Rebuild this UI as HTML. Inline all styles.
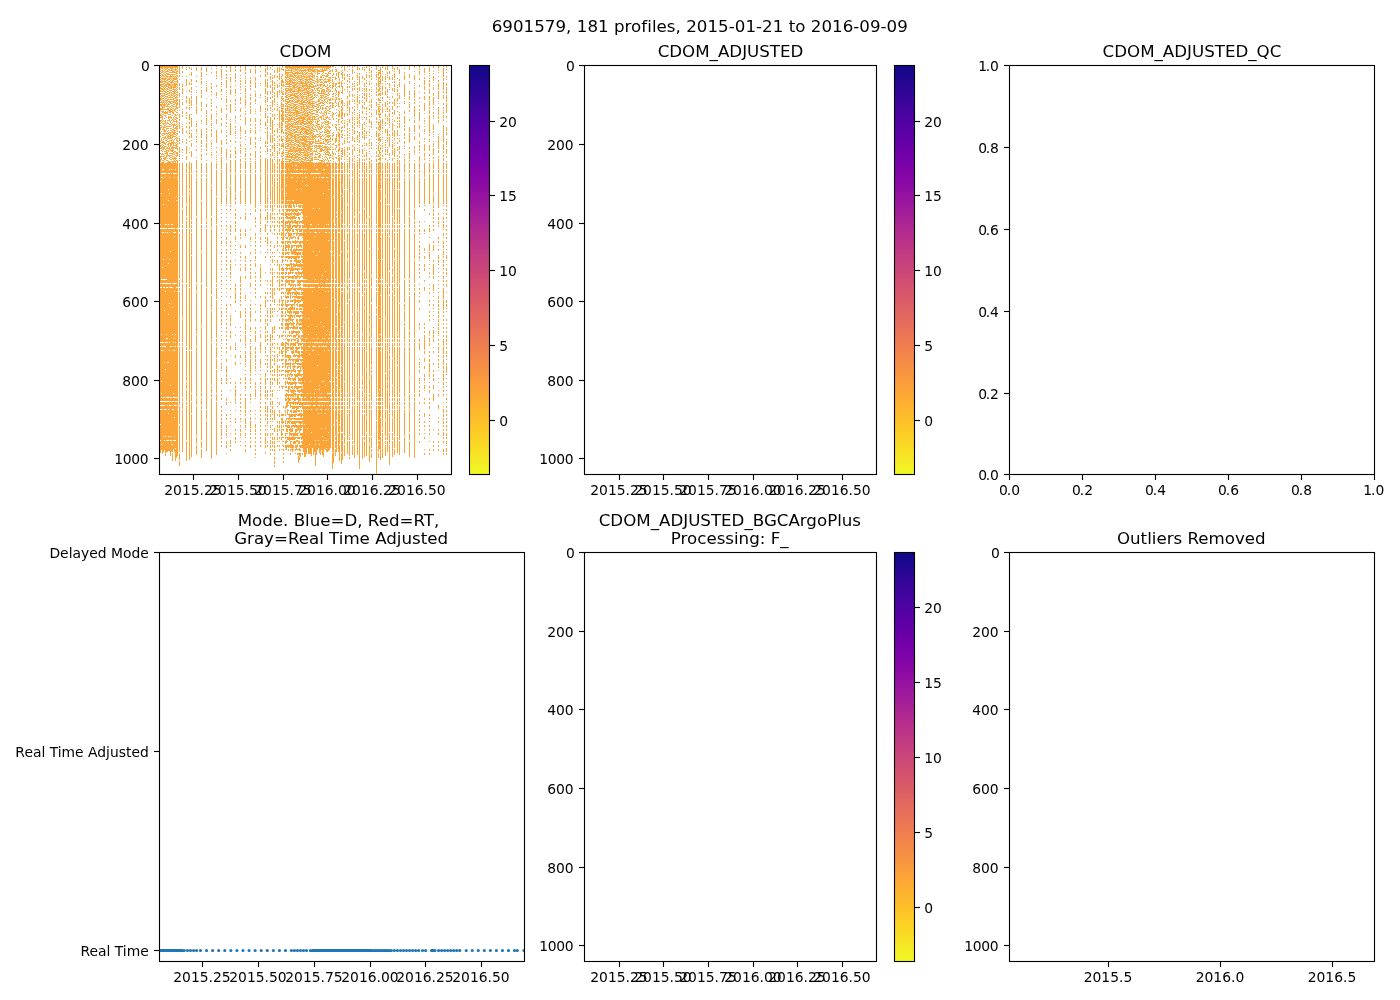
<!DOCTYPE html>
<html><head><meta charset="utf-8"><title>6901579 CDOM</title>
<style>html,body{margin:0;padding:0;background:#fff}svg{display:block}text{font-family:'DejaVu Sans','Liberation Sans',sans-serif;font-size:13.889px;fill:#000}</style>
</head><body>
<svg width="1400" height="1000" viewBox="0 0 1400 1000">
<rect x="0" y="0" width="1400" height="1000" fill="#fff"/>
<defs><linearGradient id="pl" x1="0" y1="1" x2="0" y2="0"><stop offset="0.0000" stop-color="#f0f921"/><stop offset="0.0312" stop-color="#f5eb27"/><stop offset="0.0625" stop-color="#f9dd25"/><stop offset="0.0938" stop-color="#fcd025"/><stop offset="0.1250" stop-color="#fdc328"/><stop offset="0.1562" stop-color="#feb72d"/><stop offset="0.1875" stop-color="#fdab33"/><stop offset="0.2188" stop-color="#fb9f3a"/><stop offset="0.2500" stop-color="#f89441"/><stop offset="0.2812" stop-color="#f48948"/><stop offset="0.3125" stop-color="#f07f4f"/><stop offset="0.3438" stop-color="#eb7556"/><stop offset="0.3750" stop-color="#e56b5d"/><stop offset="0.4062" stop-color="#df6263"/><stop offset="0.4375" stop-color="#d9586a"/><stop offset="0.4688" stop-color="#d24f71"/><stop offset="0.5000" stop-color="#cb4679"/><stop offset="0.5312" stop-color="#c33d80"/><stop offset="0.5625" stop-color="#bb3488"/><stop offset="0.5938" stop-color="#b22b8f"/><stop offset="0.6250" stop-color="#a82296"/><stop offset="0.6562" stop-color="#9e199d"/><stop offset="0.6875" stop-color="#9410a2"/><stop offset="0.7188" stop-color="#8808a6"/><stop offset="0.7500" stop-color="#7d03a8"/><stop offset="0.7812" stop-color="#7100a8"/><stop offset="0.8125" stop-color="#6400a7"/><stop offset="0.8438" stop-color="#5801a4"/><stop offset="0.8750" stop-color="#4b03a1"/><stop offset="0.9062" stop-color="#3e049c"/><stop offset="0.9375" stop-color="#2f0596"/><stop offset="0.9688" stop-color="#20068f"/><stop offset="1.0000" stop-color="#0d0887"/></linearGradient></defs>
<path d="M160.5 66v2m0 1v1m0 1v1m0 1v1m0 1v1m0 1v1m0 1v1m0 1v2m0 1v2m0 1v2m0 1v2m0 1v2m0 1v1m0 1v3m0 1v1m0 1v2m0 2v3m0 3v2m0 1v1m0 2v2m0 1v1m0 1v1m0 1v3m0 2v2m0 2v1m0 4v1m0 1v1m0 1v2m0 1v1m0 4v1m0 2v2m0 1v3m0 1v18m0 1v42m0 1v3m0 1v54m0 1v3m0 1v54m0 1v3m0 1v54m0 1v3m0 1v3m0 1v14m0 1v15m0 1v12M161.5 66v3m0 1v1m0 1v1m0 1v1m0 1v1m0 1v1m0 1v3m0 1v3m0 1v2m0 1v1m0 1v1m0 1v1m0 1v3m0 1v2m0 1v3m0 1v2m0 1v1m0 1v1m0 1v3m0 2v1m0 1v1m0 2v1m0 1v1m0 3v1m0 2v1m0 3v3m0 1v1m0 2v1m0 1v2m0 1v1m0 3v1m0 1v1m0 1v2m0 2v11m0 1v3m0 1v15m0 1v34m0 1v50m0 1v7m0 1v46m0 1v7m0 1v7m0 1v30m0 1v11m0 1v3m0 1v3m0 1v3m0 1v3m0 1v34m0 1v5M162.5 66v3m0 1v3m0 1v2m0 1v3m0 1v2m0 1v1m0 1v1m0 1v2m0 1v1m0 1v1m0 1v2m0 1v1m0 1v1m0 1v3m0 1v4m0 1v2m0 1v1m0 1v4m0 1v1m0 1v1m0 2v1m0 2v1m0 3v1m0 1v1m0 1v1m0 3v2m0 1v1m0 1v2m0 1v1m0 1v1m0 1v2m0 1v1m0 3v1m0 1v7m0 1v3m0 1v3m0 1v50m0 1v3m0 1v34m0 1v11m0 1v3m0 1v58m0 1v3m0 1v3m0 1v50m0 1v3m0 1v3m0 1v44M163.5 66v2m0 1v1m0 1v1m0 1v1m0 1v2m0 1v2m0 1v1m0 1v2m0 1v2m0 1v3m0 1v1m0 1v2m0 1v1m0 1v3m0 1v2m0 1v1m0 1v1m0 1v2m0 1v1m0 5v1m0 2v2m0 2v3m0 1v1m0 1v1m0 1v1m0 1v1m0 1v1m0 1v3m0 1v1m0 1v3m0 4v1m0 1v1m0 1v1m0 1v1m0 1v7m0 1v3m0 1v30m0 1v23m0 1v3m0 1v26m0 1v19m0 1v3m0 1v3m0 1v54m0 1v3m0 1v50m0 1v3m0 1v3m0 1v30m0 1v15M164.5 66v3m0 1v1m0 1v1m0 1v1m0 1v1m0 1v4m0 1v1m0 1v2m0 1v2m0 1v1m0 1v3m0 1v1m0 1v1m0 1v1m0 1v5m0 1v1m0 2v2m0 1v1m0 2v1m0 2v1m0 1v1m0 1v3m0 1v3m0 1v2m0 2v2m0 3v2m0 2v3m0 2v1m0 1v1m0 1v1m0 1v3m0 1v1m0 1v10m0 1v3m0 1v50m0 1v50m0 1v3m0 1v3m0 1v22m0 1v35m0 1v3m0 1v11m0 1v34m0 1v3m0 1v3m0 1v3m0 1v30m0 1v9M165.5 66v2m0 1v1m0 1v2m0 1v2m0 1v3m0 1v2m0 1v2m0 1v1m0 1v1m0 1v2m0 1v1m0 1v1m0 1v1m0 1v1m0 1v1m0 1v2m0 3v1m0 1v3m0 1v2m0 3v4m0 1v1m0 1v1m0 2v2m0 1v1m0 2v3m0 1v1m0 2v2m0 1v1m0 2v1m0 1v1m0 1v1m0 3v3m0 3v10m0 1v50m0 1v3m0 1v3m0 1v46m0 1v3m0 1v7m0 1v50m0 1v3m0 1v22m0 1v31m0 1v7m0 1v26m0 1v19M166.5 66v4m0 1v1m0 1v1m0 1v2m0 1v1m0 1v1m0 1v1m0 1v3m0 1v1m0 1v1m0 1v1m0 1v1m0 1v1m0 1v1m0 1v2m0 1v1m0 2v1m0 2v1m0 2v2m0 3v1m0 6v1m0 1v1m0 1v2m0 3v1m0 1v1m0 2v1m0 1v1m0 1v1m0 3v1m0 1v1m0 1v4m0 1v3m0 2v1m0 2v10m0 1v50m0 1v3m0 1v50m0 1v3m0 1v3m0 1v46m0 1v3m0 1v3m0 1v54m0 1v3m0 1v7m0 1v30m0 1v11M167.5 66v3m0 1v2m0 1v2m0 1v2m0 1v2m0 1v3m0 1v1m0 1v2m0 1v1m0 1v2m0 1v2m0 1v2m0 1v1m0 1v3m0 1v2m0 1v3m0 6v1m0 1v2m0 2v1m0 1v1m0 2v1m0 1v2m0 1v2m0 1v1m0 1v1m0 2v1m0 2v2m0 1v1m0 1v4m0 2v1m0 1v1m0 1v70m0 1v50m0 1v3m0 1v50m0 1v3m0 1v19m0 1v34m0 1v3m0 1v3m0 1v34m0 1v11M168.5 66v2m0 1v1m0 1v1m0 1v2m0 1v1m0 1v2m0 1v1m0 1v5m0 1v1m0 1v1m0 1v1m0 1v1m0 1v1m0 1v1m0 1v1m0 1v2m0 1v1m0 1v3m0 3v1m0 1v3m0 1v1m0 2v1m0 2v1m0 1v1m0 1v1m0 1v2m0 1v4m0 2v1m0 1v4m0 1v1m0 1v2m0 3v1m0 5v12m0 1v15m0 1v10m0 1v23m0 1v3m0 1v34m0 1v19m0 1v30m0 1v47m0 1v34m0 1v3m0 1v7m0 1v3m0 1v22m0 1v3m0 1v10M169.5 66v2m0 1v2m0 1v1m0 1v1m0 1v1m0 1v2m0 1v1m0 1v3m0 1v2m0 1v1m0 1v2m0 1v1m0 1v1m0 1v1m0 1v2m0 1v1m0 2v1m0 2v3m0 1v1m0 2v1m0 1v2m0 3v1m0 1v1m0 5v1m0 1v1m0 1v1m0 1v1m0 1v1m0 1v2m0 3v3m0 3v1m0 1v2m0 1v1m0 2v8m0 1v3m0 1v3m0 1v15m0 1v34m0 1v3m0 1v26m0 1v23m0 1v3m0 1v15m0 1v38m0 1v7m0 1v46m0 1v3m0 1v3m0 1v45M170.5 66v3m0 1v1m0 1v1m0 1v5m0 1v1m0 1v1m0 1v2m0 1v2m0 1v1m0 1v1m0 1v1m0 1v2m0 1v1m0 1v3m0 2v1m0 1v5m0 1v1m0 1v2m0 3v2m0 1v1m0 1v1m0 1v1m0 1v1m0 1v7m0 1v1m0 2v4m0 2v2m0 2v1m0 1v1m0 1v1m0 1v1m0 2v66m0 1v22m0 1v31m0 1v3m0 1v58m0 1v38m0 1v11m0 1v3m0 1v3m0 1v30m0 1v3m0 1v15M171.5 66v5m0 1v1m0 1v1m0 1v2m0 1v1m0 1v3m0 1v4m0 1v1m0 1v1m0 1v2m0 1v1m0 1v1m0 1v1m0 1v1m0 1v1m0 1v1m0 1v1m0 1v1m0 5v2m0 1v1m0 2v1m0 1v1m0 2v1m0 1v1m0 1v1m0 2v1m0 1v2m0 1v6m0 1v2m0 1v2m0 1v1m0 1v1m0 1v1m0 1v1m0 1v1m0 1v6m0 1v3m0 1v50m0 1v3m0 1v58m0 1v58m0 1v50m0 1v42m0 1v3m0 1v7M172.5 66v3m0 1v3m0 1v3m0 1v1m0 1v3m0 1v2m0 1v1m0 1v1m0 1v1m0 1v1m0 1v1m0 1v1m0 1v1m0 1v1m0 1v1m0 1v2m0 1v1m0 1v4m0 1v1m0 3v1m0 2v1m0 1v1m0 4v1m0 1v2m0 1v4m0 1v1m0 2v2m0 2v6m0 1v2m0 1v1m0 1v1m0 2v63m0 1v3m0 1v54m0 1v3m0 1v19m0 1v26m0 1v66m0 1v3m0 1v3m0 1v34m0 1v7m0 1v8M173.5 66v2m0 1v1m0 1v2m0 1v1m0 1v1m0 1v3m0 1v1m0 1v1m0 1v4m0 1v1m0 1v2m0 1v1m0 1v2m0 1v2m0 1v1m0 1v1m0 1v1m0 1v1m0 1v2m0 3v2m0 1v2m0 2v4m0 1v2m0 1v3m0 1v1m0 3v6m0 1v2m0 1v1m0 1v1m0 1v1m0 1v1m0 1v2m0 1v1m0 1v10m0 1v54m0 1v3m0 1v50m0 1v58m0 1v3m0 1v3m0 1v42m0 1v3m0 1v3m0 1v7m0 1v30m0 1v8M174.5 66v2m0 1v1m0 1v2m0 1v1m0 1v4m0 1v1m0 1v5m0 1v5m0 1v2m0 1v1m0 1v3m0 1v1m0 1v1m0 2v2m0 3v1m0 1v1m0 2v1m0 1v1m0 1v3m0 2v1m0 1v5m0 1v1m0 2v1m0 2v1m0 2v1m0 1v1m0 3v2m0 1v1m0 2v2m0 1v2m0 1v10m0 1v3m0 1v50m0 1v3m0 1v3m0 1v46m0 1v7m0 1v46m0 1v11m0 1v46m0 1v7m0 1v11m0 1v18m0 1v3m0 1v11M175.5 66v5m0 1v1m0 1v1m0 1v1m0 1v2m0 1v1m0 1v5m0 1v1m0 1v1m0 1v1m0 1v1m0 1v2m0 1v1m0 1v2m0 2v1m0 1v2m0 1v1m0 2v2m0 1v1m0 1v1m0 1v1m0 3v1m0 1v2m0 1v1m0 1v1m0 1v1m0 1v1m0 1v1m0 4v1m0 1v1m0 1v2m0 2v1m0 1v1m0 1v1m0 1v3m0 1v8m0 1v3m0 1v58m0 1v50m0 1v50m0 1v7m0 1v3m0 1v50m0 1v3m0 1v3m0 1v34m0 1v7m0 1v12M176.5 66v2m0 1v1m0 1v3m0 1v1m0 1v3m0 1v1m0 1v2m0 1v1m0 1v1m0 1v1m0 1v1m0 1v1m0 1v2m0 1v3m0 1v6m0 3v1m0 2v1m0 1v2m0 1v3m0 1v1m0 1v4m0 3v1m0 1v1m0 1v1m0 1v2m0 1v1m0 1v5m0 3v2m0 1v2m0 1v1m0 1v1m0 2v10m0 1v22m0 1v3m0 1v27m0 1v54m0 1v3m0 1v109m0 1v3m0 1v3m0 1v52M177.5 66v3m0 1v2m0 1v1m0 1v2m0 1v1m0 1v3m0 1v2m0 1v1m0 1v1m0 1v2m0 1v2m0 1v1m0 1v2m0 1v3m0 2v2m0 1v1m0 1v1m0 1v1m0 3v1m0 2v1m0 1v1m0 1v2m0 1v1m0 1v2m0 1v2m0 2v2m0 1v2m0 1v2m0 1v1m0 1v2m0 2v4m0 4v17m0 1v50m0 1v58m0 1v3m0 1v54m0 1v50m0 1v3m0 1v7m0 1v46M179.5 66v8m0 1v2m0 2v1m0 3v3m0 1v3m0 3v4m0 2v9m0 2v1m0 3v4m0 1v2m0 1v7m0 2v2m0 3v1m0 1v3m0 1v2m0 3v6m0 1v3m0 1v1m0 1v1m0 2v65m0 1v3m0 1v46m0 1v7m0 1v3m0 1v50m0 1v3m0 1v58m0 1v18m0 1v27m0 1v7m0 1v5M182.5 66v3m0 2v2m0 3v1m0 7v3m0 1v6m0 5v1m0 2v3m0 4v1m0 1v3m0 1v2m0 7v1m0 1v1m0 1v6m0 5v1m0 1v2m0 6v2m0 1v1m0 2v1m0 2v1m0 4v33m0 1v11m0 1v15m0 1v3m0 1v54m0 1v34m0 1v23m0 1v3m0 1v50m0 1v3m0 1v7m0 1v42M186.5 67v1m0 1v1m0 6v1m0 2v7m0 5v1m0 4v3m0 1v3m0 4v2m0 3v2m0 1v1m0 1v2m0 4v1m0 2v2m0 3v2m0 6v2m0 1v2m0 2v8m0 2v4m0 3v10m0 1v30m0 1v11m0 1v3m0 1v7m0 1v54m0 1v62m0 1v3m0 1v30m0 1v7m0 1v11m0 1v3m0 1v34m0 1v20M189.5 67v2m0 5v1m0 7v3m0 5v2m0 6v6m0 1v1m0 1v3m0 4v6m0 2v2m0 2v3m0 1v1m0 1v2m0 2v2m0 3v1m0 6v1m0 3v1m0 9v27m0 1v3m0 1v34m0 1v58m0 1v62m0 1v109M191.5 68v2m0 2v4m0 3v3m0 1v2m0 2v3m0 1v2m0 1v1m0 1v3m0 1v6m0 1v1m0 6v1m0 3v9m0 3v1m0 2v5m0 2v1m0 2v4m0 4v6m0 6v10m0 1v46m0 1v3m0 1v3m0 1v3m0 1v22m0 1v94m0 1v42m0 1v7m0 1v11m0 1v43M196.5 67v4m0 5v1m0 3v2m0 4v1m0 3v1m0 1v1m0 3v9m0 1v8m0 7v1m0 1v4m0 2v3m0 1v1m0 2v2m0 1v1m0 1v2m0 3v1m0 2v2m0 6v1m0 2v9m0 1v3m0 1v3m0 1v38m0 1v66m0 1v7m0 1v42m0 1v11m0 1v50m0 1v7m0 1v30m0 1v7m0 1v10M201.5 67v4m0 1v5m0 1v2m0 1v4m0 2v1m0 2v4m0 1v3m0 4v5m0 1v3m0 4v1m0 4v2m0 1v1m0 5v9m0 2v4m0 1v2m0 2v1m0 1v1m0 2v3m0 1v2m0 3v10m0 1v3m0 1v22m0 1v23m0 1v26m0 1v31m0 1v42m0 1v70m0 1v7m0 1v3m0 1v30m0 1v7m0 1v9M206.5 67v5m0 2v1m0 6v1m0 1v1m0 1v1m0 1v5m0 6v1m0 5v3m0 3v4m0 1v2m0 1v7m0 3v2m0 1v2m0 1v8m0 1v5m0 1v2m0 2v2m0 5v1m0 2v10m0 1v3m0 1v42m0 1v3m0 1v3m0 1v58m0 1v121m0 1v10m0 1v30M211.5 68v1m0 3v1m0 10v2m0 1v3m0 2v2m0 1v1m0 4v2m0 1v2m0 1v2m0 2v2m0 3v6m0 1v1m0 1v3m0 1v1m0 1v3m0 1v4m0 3v1m0 1v3m0 1v1m0 1v1m0 3v1m0 1v2m0 1v1m0 4v23m0 1v30m0 1v11m0 1v66m0 1v14m0 1v31m0 1v42m0 1v7m0 1v3m0 1v61M216.5 66v1m0 1v1m0 2v3m0 1v2m0 1v1m0 6v2m0 5v4m0 1v1m0 8v2m0 3v1m0 1v2m0 1v1m0 2v5m0 6v13m0 4v1m0 3v2m0 2v1m0 1v1m0 1v1m0 1v1m0 1v6m0 1v26m0 1v27m0 1v58m0 1v3m0 1v11m0 1v38m0 1v3m0 1v3m0 1v11m0 1v10m0 1v23m0 1v7m0 1v53M221.5 66v2m0 1v9m0 1v1m0 2v3m0 1v1m0 2v3m0 2v1m0 3v2m0 8v5m0 5v2m0 3v3m0 4v3m0 7v5m0 2v7m0 1v1m0 1v12m0 1v34m0 1v1m0 3v1m0 3v1m0 3v1m0 3v1m0 3v2m0 2v1m0 3v1m0 3v1m0 3v3m0 1v1m0 3v1m0 2v2m0 2v1m0 3v2m0 2v1m0 3v2m0 2v1m0 3v1m0 3v2m0 2v1m0 3v1m0 3v1m0 3v1m0 3v1m0 3v1m0 3v1m0 2v3m0 1v2m0 2v3m0 1v2m0 2v1m0 3v1m0 3v1m0 3v2m0 2v1m0 3v2m0 2v1m0 3v1m0 3v1m0 3v2m0 1v3m0 1v1m0 7v3m0 1v2m0 6v2m0 2v2m0 2v2m0 6v2m0 2v2m0 2v2m0 2v2m0 1v3m0 1v3m0 1v7m0 1v2m0 2v2m0 2v2M226.5 66v2m0 2v2m0 2v2m0 1v2m0 1v8m0 2v1m0 1v1m0 1v1m0 1v1m0 1v5m0 2v2m0 1v2m0 4v4m0 1v1m0 2v2m0 2v1m0 3v1m0 1v1m0 2v2m0 2v2m0 1v2m0 5v9m0 1v1m0 3v26m0 1v3m0 1v10m0 1v1m0 3v1m0 3v1m0 3v1m0 3v1m0 3v2m0 2v1m0 3v1m0 3v3m0 1v3m0 1v1m0 3v2m0 1v2m0 2v2m0 2v2m0 2v2m0 2v2m0 2v1m0 3v1m0 3v1m0 3v1m0 3v1m0 3v1m0 3v1m0 7v2m0 2v2m0 1v2m0 2v2m0 2v1m0 3v2m0 2v2m0 2v2m0 2v2m0 2v2m0 2v2m0 2v2m0 2v2m0 6v3m0 4v7m0 1v3m0 1v3m0 1v2m0 14v3m0 1v3m0 9v2m0 2v2m0 5v3m0 1v3m0 1v3m0 1v1m0 3v3m0 1v3m0 5v1M230.5 66v6m0 2v1m0 2v5m0 2v1m0 1v2m0 1v6m0 5v2m0 2v9m0 6v1m0 1v1m0 1v12m0 5v2m0 4v1m0 3v2m0 2v4m0 2v13m0 1v11m0 1v18m0 1v2m0 2v2m0 2v1m0 7v1m0 3v3m0 1v3m0 1v2m0 6v2m0 2v2m0 2v1m0 2v2m0 6v3m0 1v7m0 1v3m0 1v2m0 2v1m0 3v1m0 3v2m0 6v2m0 6v2m0 9v2m0 1v4m0 1v3m0 5v3m0 1v3m0 8v4m0 5v1m0 22v1m0 3v2m0 6v1m0 11v1m0 7v1m0 3v1m0 3v1m0 2v1m0 3v1m0 7v1m0 6v4m0 1v2m0 2v2M235.5 66v2m0 1v2m0 2v6m0 1v2m0 3v1m0 3v5m0 1v1m0 3v3m0 1v2m0 2v1m0 1v2m0 5v3m0 1v1m0 1v1m0 3v2m0 1v1m0 1v3m0 1v1m0 1v1m0 3v2m0 4v2m0 1v5m0 1v2m0 2v13m0 1v19m0 1v6m0 1v3m0 5v2m0 2v3m0 1v2m0 2v3m0 1v2m0 1v4m0 4v4m0 1v1m0 3v1m0 3v1m0 2v1m0 7v1m0 3v1m0 19v3m0 1v3m0 1v7m0 1v3m0 8v1m0 15v1m0 7v1m0 7v3m0 1v3m0 5v3m0 4v3m0 17v2m0 2v2m0 1v8m0 1v3m0 1v2m0 6v1m0 7v2m0 1v2m0 6v2m0 2v2m0 2v3m0 1v2M240.5 66v2m0 1v3m0 3v1m0 2v1m0 1v2m0 1v2m0 1v2m0 1v1m0 3v1m0 3v4m0 1v2m0 4v4m0 3v2m0 2v1m0 6v6m0 1v1m0 1v1m0 1v2m0 3v1m0 1v3m0 1v1m0 1v4m0 2v1m0 2v3m0 1v6m0 1v3m0 1v15m0 1v14m0 13v2m0 10v3m0 1v3m0 1v2m0 6v3m0 4v2m0 2v2m0 2v1m0 3v1m0 3v3m0 5v7m0 1v3m0 1v3m0 1v3m0 1v3m0 1v2m0 2v2m0 5v7m0 9v1m0 3v1m0 3v1m0 3v3m0 9v1m0 3v3m0 5v1m0 14v2m0 2v2m0 10v2m0 2v2m0 2v2m0 2v2m0 2v2m0 2v1m0 3v2m0 1v1m0 3v2m0 2v3m0 1v3m0 1v1m0 3v1m0 3v1M245.5 66v5m0 1v2m0 2v1m0 1v1m0 1v4m0 2v1m0 1v4m0 1v1m0 1v3m0 1v7m0 1v1m0 3v1m0 1v2m0 2v8m0 5v4m0 2v1m0 2v1m0 4v1m0 3v2m0 1v1m0 1v4m0 1v2m0 1v8m0 1v3m0 1v30m0 1v1m0 3v1m0 3v2m0 1v4m0 9v3m0 1v3m0 9v3m0 8v3m0 1v2m0 2v2m0 1v4m0 5v3m0 16v4m0 1v1m0 7v2m0 1v3m0 1v2m0 2v3m0 1v7m0 1v3m0 1v7m0 1v3m0 1v1m0 3v3m0 1v3m0 1v3m0 1v2m0 1v1m0 3v1m0 3v1m0 2v4m0 1v2m0 2v3m0 1v1m0 3v2m0 2v11m0 1v3m0 1v2m0 2v6m0 1v3m0 1v1m0 3v3m0 1v1m0 3v1m0 3v2m0 2v3M250.5 69v4m0 4v2m0 1v4m0 1v2m0 1v2m0 4v2m0 1v3m0 2v3m0 1v2m0 1v5m0 4v4m0 2v2m0 2v1m0 1v3m0 4v8m0 3v1m0 4v3m0 2v2m0 1v1m0 1v10m0 1v30m0 5v1m0 3v2m0 14v1m0 7v3m0 1v1m0 3v1m0 6v2m0 6v2m0 2v2m0 2v2m0 2v2m0 1v4m0 4v4m0 5v1m0 7v1m0 3v2m0 2v2m0 1v7m0 1v3m0 5v3m0 1v1m0 3v1m0 3v3m0 1v1m0 2v4m0 1v7m0 1v14m0 1v2m0 2v3m0 1v2m0 2v2m0 6v3m0 1v2m0 2v1m0 7v2m0 2v1m0 2v3m0 1v7m0 1v3m0 1v2m0 2v2m0 2v2m0 2v3M255.5 66v2m0 1v5m0 3v4m0 1v6m0 3v1m0 1v4m0 2v3m0 1v1m0 5v1m0 1v1m0 1v1m0 4v4m0 2v2m0 1v2m0 1v4m0 3v3m0 2v3m0 1v2m0 3v7m0 1v1m0 1v8m0 1v3m0 1v34m0 1v3m0 5v3m0 1v2m0 2v2m0 6v3m0 1v2m0 2v2m0 2v2m0 2v2m0 1v2m0 2v3m0 1v1m0 2v4m0 5v2m0 2v2m0 2v2m0 2v2m0 2v2m0 2v2m0 2v2m0 6v1m0 6v2m0 6v2m0 6v2m0 2v3m0 1v7m0 5v3m0 1v3m0 1v3m0 1v3m0 1v2m0 1v3m0 1v1m0 3v1m0 7v3m0 1v2m0 1v8m0 1v1m0 11v1m0 3v1m0 3v1m0 5v4m0 1v3m0 1v2m0 2v2m0 2v2m0 2v2m0 2v2m0 2v2m0 2v1M260.5 66v2m0 3v1m0 3v2m0 6v1m0 1v1m0 8v2m0 1v1m0 7v7m0 2v1m0 4v3m0 1v2m0 2v1m0 2v1m0 6v2m0 1v1m0 6v2m0 2v2m0 2v3m0 1v14m0 1v7m0 1v22m0 1v1m0 3v3m0 1v7m0 1v3m0 1v1m0 2v4m0 1v1m0 3v3m0 1v2m0 2v2m0 5v1m0 11v2m0 1v12m0 1v2m0 2v2m0 10v2m0 6v3m0 1v2m0 1v2m0 2v2m0 2v3m0 5v1m0 3v1m0 2v4m0 4v8m0 1v2m0 6v6m0 1v2m0 2v1m0 3v1m0 3v2m0 2v2m0 2v3m0 1v2m0 1v4m0 1v2m0 2v2m0 2v2m0 2v2m0 2v2m0 2v2m0 1v2m0 2v2m0 2v2m0 2v2m0 2v2m0 2v2m0 2v2M265.5 66v1m0 1v5m0 1v3m0 2v8m0 1v6m0 2v1m0 1v1m0 1v3m0 1v1m0 3v2m0 1v1m0 1v5m0 4v4m0 2v1m0 3v1m0 8v3m0 1v2m0 4v1m0 6v46m0 1v3m0 1v2m0 6v3m0 4v8m0 5v2m0 2v1m0 10v1m0 3v2m0 14v1m0 7v1m0 11v2m0 2v3m0 1v7m0 8v1m0 3v3m0 1v1m0 2v4m0 1v2m0 2v3m0 1v3m0 5v3m0 1v2m0 2v1m0 3v1m0 3v2m0 8v4m0 1v7m0 1v3m0 1v3m0 1v3m0 1v1m0 3v2m0 2v3m0 1v2m0 2v2m0 2v2m0 5v2m0 2v2m0 2v3m0 1v7m0 1v3m0 4v2M267.5 66v4m0 2v3m0 4v2m0 1v6m0 3v4m0 2v5m0 3v2m0 1v3m0 5v2m0 1v4m0 2v1m0 1v3m0 1v9m0 1v3m0 2v1m0 1v4m0 1v1m0 5v14m0 1v19m0 1v10m0 1v3m0 1v1m0 2v8m0 1v2m0 2v1m0 7v2m0 2v7m0 1v1m0 3v1m0 2v1m0 27v2m0 2v1m0 3v1m0 3v2m0 6v2m0 6v1m0 1v4m0 1v2m0 2v2m0 2v3m0 5v2m0 2v2m0 2v2m0 2v2m0 10v2m0 2v2m0 2v2m0 1v2m0 2v2m0 6v2m0 10v3m0 1v3m0 1v2m0 6v7m0 1v3m0 1v2m0 1v3m0 1v1m0 3v1m0 3v3m0 5v2m0 2v2M270.5 67v2m0 4v2m0 1v4m0 1v1m0 3v3m0 3v3m0 3v2m0 3v1m0 2v1m0 1v2m0 1v1m0 2v1m0 3v10m0 1v2m0 3v1m0 1v8m0 2v1m0 3v3m0 2v3m0 1v15m0 1v26m0 1v3m0 1v3m0 1v1m0 3v7m0 1v1m0 3v3m0 1v3m0 9v2m0 2v2m0 2v2m0 1v1m0 3v2m0 2v1m0 3v1m0 3v2m0 2v2m0 6v2m0 2v2m0 2v2m0 2v2m0 2v2m0 2v1m0 3v2m0 2v6m0 1v3m0 1v3m0 12v8m0 1v3m0 1v7m0 1v14m0 1v3m0 1v1m0 3v2m0 1v4m0 1v3m0 1v2m0 2v2m0 2v2m0 1v4m0 1v1m0 2v4m0 1v3m0 1v2m0 1v1m0 3v3m0 1v1m0 3v3m0 1v1m0 2v4m0 1v3m0 1v2m0 2v2M272.5 66v1m0 2v1m0 5v1m0 1v2m0 1v6m0 1v6m0 1v1m0 1v2m0 2v7m0 2v1m0 1v1m0 2v3m0 3v14m0 1v8m0 2v4m0 3v4m0 3v14m0 1v11m0 1v18m0 1v7m0 1v2m0 2v2m0 2v2m0 2v1m0 7v1m0 18v2m0 2v1m0 2v4m0 5v3m0 1v3m0 1v11m0 1v11m0 1v2m0 6v2m0 1v2m0 2v2m0 10v7m0 1v3m0 1v1m0 3v3m0 1v1m0 3v1m0 3v1m0 3v2m0 5v2m0 2v2m0 2v2m0 2v2m0 2v3m0 5v2m0 1v4m0 4v4m0 1v3m0 1v3m0 1v1m0 3v2m0 1v1m0 3v1m0 3v1m0 3v2m0 2v3m0 1v3m0 1v2m0 2v2M274.5 70v3m0 2v3m0 4v2m0 1v1m0 1v3m0 2v2m0 1v2m0 1v5m0 1v1m0 3v2m0 4v2m0 1v3m0 4v1m0 5v2m0 2v2m0 2v3m0 2v9m0 1v1m0 1v1m0 1v1m0 1v1m0 3v10m0 1v3m0 1v26m0 1v2m0 2v1m0 3v2m0 2v3m0 1v2m0 2v3m0 1v2m0 2v2m0 10v3m0 4v1m0 3v1m0 3v1m0 3v1m0 7v1m0 3v1m0 11v3m0 1v3m0 4v4m0 1v1m0 3v2m0 1v1m0 14v4m0 1v2m0 6v1m0 3v1m0 3v2m0 2v2m0 2v2m0 1v4m0 1v2m0 4v4m0 1v2m0 2v3m0 5v1m0 23v10m0 8v4m0 5v3m0 1v3m0 1v3m0 1v3m0 1v2m0 2v3m0 1v3m0 1v2M277.5 67v6m0 3v2m0 2v1m0 3v4m0 3v7m0 4v1m0 1v1m0 1v1m0 1v3m0 3v1m0 3v1m0 5v1m0 3v5m0 3v2m0 3v1m0 1v1m0 1v1m0 1v1m0 3v5m0 1v1m0 1v6m0 1v3m0 1v3m0 1v3m0 1v3m0 1v22m0 1v3m0 5v2m0 2v1m0 3v2m0 2v2m0 6v2m0 2v2m0 2v3m0 1v2m0 2v2m0 9v3m0 1v2m0 6v2m0 2v2m0 2v2m0 6v2m0 14v1m0 6v1m0 3v1m0 19v1m0 7v2m0 2v2m0 5v4m0 1v3m0 3v8m0 1v3m0 1v7m0 5v1m0 7v1m0 3v1m0 3v1m0 7v2m0 5v2m0 2v3m0 1v3m0 1v3m0 1v3m0 1v1m0 3v2M279.5 67v5m0 1v7m0 3v1m0 1v2m0 3v3m0 1v1m0 12v1m0 2v11m0 1v6m0 1v1m0 2v1m0 2v2m0 2v2m0 2v3m0 2v3m0 1v2m0 5v3m0 1v10m0 1v30m0 1v3m0 1v3m0 1v1m0 3v3m0 1v3m0 1v3m0 1v3m0 1v2m0 10v1m0 6v1m0 3v1m0 7v7m0 1v3m0 1v2m0 1v8m0 1v3m0 8v4m0 1v2m0 2v2m0 9v2m0 6v2m0 6v3m0 9v3m0 1v3m0 1v1m0 3v2m0 5v2m0 2v2m0 2v2m0 2v1m0 3v2m0 2v2m0 2v1m0 11v3m0 5v3m0 1v3m0 4v3m0 1v3m0 1v2m0 6v2m0 2v1m0 3v2m0 2v2M281.5 68v2m0 6v3m0 1v6m0 1v2m0 1v3m0 3v3m0 1v1m0 1v7m0 1v2m0 2v6m0 1v12m0 3v5m0 3v3m0 1v1m0 4v1m0 1v2m0 4v8m0 1v34m0 1v3m0 5v2m0 2v2m0 2v2m0 2v1m0 6v4m0 1v1m0 3v2m0 2v2m0 9v2m0 6v2m0 2v2m0 2v2m0 2v2m0 2v2m0 2v2m0 2v2m0 2v2m0 2v3m0 1v1m0 3v2m0 2v2m0 1v2m0 2v2m0 6v2m0 2v2m0 6v2m0 6v3m0 4v4m0 5v2m0 9v2m0 2v2m0 10v1m0 27v2m0 2v2m0 1v2m0 2v3m0 1v7m0 1v3m0 9v1M282.5 66v2m0 1v1m0 4v2m0 3v4m0 2v1m0 6v3m0 1v1m0 1v2m0 4v1m0 1v1m0 1v14m0 1v3m0 1v1m0 1v3m0 7v3m0 1v1m0 1v2m0 4v4m0 1v1m0 1v15m0 1v15m0 1v10m0 1v3m0 5v2m0 2v2m0 2v1m0 3v2m0 2v2m0 2v2m0 2v2m0 2v3m0 1v3m0 5v2m0 1v3m0 1v2m0 1v4m0 4v4m0 1v3m0 1v3m0 1v2m0 2v2m0 2v1m0 3v1m0 7v7m0 1v2m0 1v3m0 1v2m0 1v4m0 1v3m0 1v2m0 6v2m0 5v4m0 1v3m0 1v3m0 1v2m0 2v2m0 2v2m0 1v2m0 2v1m0 3v1m0 11v3m0 25v2m0 2v6m0 5v1m0 3v2m0 2v1m0 3v1m0 3v1M283.5 69v2m0 10v2m0 1v3m0 2v1m0 1v1m0 1v2m0 3v1m0 1v2m0 2v3m0 1v1m0 2v2m0 1v2m0 1v5m0 10v2m0 2v1m0 2v1m0 3v5m0 1v2m0 1v2m0 1v1m0 2v1m0 2v8m0 1v3m0 1v30m0 1v3m0 1v3m0 1v3m0 1v23m0 1v3m0 1v6m0 1v3m0 1v1m0 3v1m0 3v1m0 3v3m0 1v2m0 2v3m0 5v1m0 3v1m0 3v2m0 2v1m0 3v1m0 3v1m0 3v1m0 6v1m0 3v1m0 11v2m0 2v1m0 3v1m0 3v3m0 1v2m0 2v1m0 3v1m0 3v1m0 3v1m0 2v1m0 3v1m0 3v1m0 3v1m0 7v1m0 19v2m0 6v2m0 5v2m0 2v2m0 2v2m0 6v1m0 3v1m0 3v2m0 2v2m0 2v2m0 2v2m0 2v2M285.5 66v2m0 1v6m0 1v2m0 1v2m0 1v1m0 1v1m0 1v1m0 1v3m0 1v3m0 1v2m0 1v3m0 1v1m0 1v2m0 1v5m0 1v3m0 1v2m0 1v3m0 1v3m0 1v2m0 1v2m0 1v1m0 1v2m0 1v1m0 1v1m0 1v1m0 1v3m0 1v1m0 1v1m0 1v1m0 1v1m0 1v2m0 1v1m0 1v6m0 1v3m0 1v34m0 1v1m0 2v4m0 1v1m0 3v7m0 1v2m0 2v3m0 1v1m0 3v10m0 1v3m0 1v2m0 1v2m0 3v1m0 3v1m0 3v3m0 1v2m0 2v2m0 1v4m0 1v1m0 3v2m0 1v3m0 2v6m0 2v2m0 1v3m0 1v2m0 2v2m0 2v3m0 1v3m0 1v2m0 2v2m0 2v1m0 2v16m0 1v9m0 2v3m0 1v3m0 1v1m0 2v4m0 1v2m0 2v1m0 3v3m0 1v3m0 5v3m0 1v3m0 1v2m0 4v4m0 1v2m0 6v3m0 1v2m0 2v3m0 1v3m0 1v1M286.5 66v3m0 1v1m0 1v2m0 1v1m0 1v2m0 1v2m0 1v2m0 1v1m0 1v1m0 1v2m0 1v1m0 1v3m0 1v1m0 1v1m0 1v2m0 1v1m0 1v1m0 1v1m0 1v1m0 1v1m0 1v2m0 1v1m0 1v1m0 1v1m0 1v2m0 1v1m0 1v1m0 1v3m0 1v1m0 1v4m0 1v2m0 1v1m0 1v1m0 1v1m0 1v1m0 1v1m0 1v2m0 1v1m0 1v12m0 1v11m0 1v7m0 1v10m0 1v3m0 1v3m0 1v6m0 2v3m0 1v1m0 2v3m0 2v1m0 3v2m0 2v1m0 3v3m0 1v2m0 1v2m0 2v2m0 6v2m0 1v4m0 1v2m0 2v1m0 2v4m0 5v4m0 4v3m0 5v3m0 1v2m0 4v1m0 4v3m0 1v3m0 1v2m0 9v1m0 3v2m0 3v3m0 1v2m0 2v2m0 2v3m0 1v2m0 5v2m0 6v2m0 2v1m0 3v2m0 2v1m0 2v4m0 1v3m0 1v6m0 10v2m0 5v2m0 1v4m0 1v1m0 3v1m0 2v3m0 2v5M287.5 66v3m0 1v1m0 1v6m0 1v1m0 1v4m0 1v1m0 1v1m0 1v2m0 1v1m0 1v1m0 1v1m0 1v1m0 1v3m0 1v6m0 1v1m0 1v1m0 1v1m0 1v2m0 1v2m0 1v6m0 1v1m0 1v1m0 1v4m0 1v2m0 1v1m0 1v2m0 1v1m0 1v1m0 1v1m0 1v4m0 1v1m0 1v1m0 1v14m0 1v22m0 1v3m0 1v1m0 3v3m0 1v2m0 1v3m0 2v3m0 1v3m0 1v4m0 4v2m0 2v3m0 1v3m0 4v2m0 2v2m0 2v2m0 2v3m0 1v2m0 6v1m0 3v3m0 5v3m0 1v3m0 1v2m0 2v3m0 1v3m0 3v3m0 2v1m0 3v2m0 2v7m0 5v2m0 2v2m0 2v2m0 2v2m0 1v1m0 4v3m0 5v2m0 1v3m0 1v3m0 1v3m0 4v3m0 6v2m0 2v2m0 2v1m0 2v6m0 2v6m0 3v1m0 2v3m0 1v3m0 1v3m0 1v1m0 3v3m0 1v1m0 3v2M288.5 66v2m0 1v2m0 1v2m0 1v1m0 1v1m0 1v1m0 1v1m0 1v2m0 1v1m0 1v3m0 1v1m0 1v1m0 1v1m0 1v2m0 1v2m0 1v1m0 1v1m0 1v1m0 1v1m0 1v2m0 1v1m0 1v1m0 1v3m0 1v3m0 1v3m0 1v1m0 1v3m0 1v1m0 1v3m0 1v4m0 1v1m0 1v5m0 1v2m0 1v1m0 1v1m0 1v6m0 1v34m0 1v3m0 1v2m0 2v3m0 1v2m0 1v3m0 2v6m0 1v5m0 4v2m0 1v7m0 1v3m0 1v3m0 5v2m0 2v1m0 3v3m0 1v3m0 1v2m0 1v2m0 3v7m0 1v2m0 2v2m0 2v2m0 2v2m0 1v2m0 2v2m0 1v4m0 1v7m0 5v1m0 3v3m0 1v3m0 1v2m0 1v1m0 4v3m0 1v2m0 2v2m0 1v1m0 3v3m0 1v1m0 2v3m0 2v3m0 1v7m0 1v9m0 2v1m0 4v1m0 3v1m0 3v2m0 1v2m0 2v3m0 9v3m0 5v3m0 1v2M289.5 66v3m0 1v1m0 1v1m0 1v1m0 1v3m0 1v8m0 1v2m0 1v1m0 1v1m0 1v1m0 1v1m0 1v3m0 1v1m0 1v2m0 1v4m0 1v2m0 1v5m0 1v2m0 1v2m0 1v4m0 1v1m0 1v1m0 1v3m0 1v1m0 1v1m0 1v1m0 1v1m0 1v2m0 1v1m0 1v3m0 1v14m0 1v26m0 1v7m0 1v3m0 1v3m0 1v2m0 2v7m0 1v3m0 1v3m0 1v3m0 1v2m0 2v3m0 4v1m0 3v3m0 5v3m0 1v2m0 2v2m0 2v2m0 2v5m0 3v6m0 10v1m0 3v2m0 1v3m0 1v5m0 3v2m0 2v1m0 3v3m0 1v2m0 2v2m0 6v1m0 7v5m0 3v2m0 1v1m0 3v2m0 2v2m0 1v3m0 2v2m0 2v3m0 5v2m0 2v3m0 1v2m0 10v5m0 1v4m0 1v3m0 1v2m0 1v4m0 1v4m0 4v2M290.5 66v3m0 1v1m0 1v1m0 1v3m0 1v5m0 1v1m0 1v1m0 1v5m0 1v3m0 1v1m0 1v1m0 1v1m0 1v2m0 1v1m0 1v1m0 1v2m0 1v3m0 1v3m0 1v1m0 1v3m0 1v1m0 1v1m0 1v4m0 1v2m0 1v1m0 1v3m0 1v6m0 1v2m0 1v2m0 1v3m0 1v45m0 1v2m0 2v2m0 1v4m0 1v10m0 2v5m0 3v3m0 5v2m0 5v2m0 2v2m0 1v2m0 3v6m0 2v2m0 2v1m0 3v3m0 1v3m0 1v7m0 1v2m0 2v1m0 2v6m0 1v7m0 1v2m0 3v2m0 6v1m0 7v3m0 1v3m0 5v3m0 1v2m0 1v7m0 1v1m0 2v2m0 3v3m0 1v3m0 4v3m0 2v3m0 1v3m0 1v6m0 2v2m0 2v3m0 1v2m0 1v1m0 6v4m0 1v2m0 2v3m0 1v7m0 1v2m0 2v2M291.5 66v7m0 1v3m0 1v1m0 1v2m0 1v2m0 1v1m0 1v3m0 1v1m0 1v2m0 1v2m0 1v2m0 1v1m0 1v1m0 1v2m0 1v1m0 1v2m0 1v1m0 1v3m0 1v1m0 1v1m0 1v2m0 1v1m0 1v1m0 1v6m0 1v4m0 1v2m0 1v1m0 1v3m0 1v2m0 1v3m0 1v1m0 1v11m0 1v3m0 1v26m0 1v3m0 1v2m0 1v4m0 1v2m0 1v2m0 6v1m0 4v3m0 1v2m0 6v9m0 2v3m0 1v2m0 1v8m0 1v1m0 3v2m0 2v3m0 1v2m0 2v2m0 2v1m0 7v2m0 2v6m0 1v3m0 1v2m0 2v2m0 2v3m0 1v1m0 3v3m0 1v2m0 2v3m0 1v2m0 2v3m0 1v2m0 6v1m0 10v3m0 1v3m0 5v3m0 1v2m0 2v3m0 1v2m0 1v1m0 4v2m0 2v1m0 3v3m0 1v3m0 1v2m0 1v3m0 1v3m0 1v3m0 1v3m0 1v3m0 1v1m0 2v4m0 1v1M292.5 66v3m0 1v1m0 1v2m0 1v2m0 1v2m0 1v3m0 1v1m0 1v1m0 1v1m0 1v1m0 1v3m0 1v2m0 1v2m0 1v1m0 1v1m0 1v2m0 1v1m0 1v1m0 1v1m0 1v2m0 1v1m0 1v1m0 1v5m0 1v1m0 1v1m0 1v1m0 1v2m0 1v1m0 1v1m0 1v1m0 1v1m0 1v1m0 1v1m0 1v2m0 1v1m0 1v3m0 1v1m0 1v4m0 1v7m0 1v3m0 1v22m0 1v3m0 5v3m0 1v1m0 2v4m0 1v3m0 1v3m0 1v3m0 5v2m0 2v2m0 2v3m0 3v4m0 1v2m0 6v1m0 2v4m0 1v2m0 2v3m0 1v3m0 1v1m0 2v2m0 3v3m0 1v2m0 2v2m0 2v6m0 5v3m0 1v3m0 1v2m0 2v2m0 2v3m0 5v1m0 3v2m0 1v4m0 1v3m0 5v2m0 2v2m0 1v1m0 3v2m0 2v2m0 2v2m0 2v3m0 1v3m0 1v3m0 1v3m0 1v2m0 2v2m0 2v3m0 5v3m0 1v1m0 2v3m0 1v2m0 1v4m0 1v2m0 2v3m0 5v7M293.5 66v4m0 1v1m0 1v2m0 1v2m0 1v2m0 1v2m0 1v4m0 1v3m0 1v2m0 1v1m0 1v1m0 1v1m0 1v2m0 1v2m0 1v2m0 1v2m0 1v1m0 1v1m0 1v1m0 1v1m0 1v1m0 1v1m0 1v1m0 1v2m0 1v1m0 1v1m0 1v1m0 1v1m0 1v1m0 1v1m0 1v1m0 1v5m0 1v1m0 1v2m0 1v1m0 1v1m0 1v12m0 1v26m0 1v6m0 2v3m0 1v2m0 1v3m0 2v2m0 2v2m0 2v3m0 1v2m0 1v2m0 3v2m0 2v1m0 3v5m0 2v3m0 4v4m0 1v3m0 1v1m0 3v3m0 1v3m0 1v3m0 1v2m0 2v1m0 3v1m0 3v1m0 3v1m0 3v2m0 1v2m0 2v1m0 3v1m0 2v7m0 1v3m0 2v3m0 1v1m0 3v3m0 1v2m0 1v4m0 1v2m0 2v3m0 1v2m0 1v5m0 7v3m0 1v2m0 5v8m0 1v2m0 1v4m0 1v3m0 1v3m0 1v2m0 2v1m0 2v3m0 1v2m0 6v7m0 1v3m0 1v3m0 1v1M294.5 66v2m0 1v1m0 1v1m0 1v3m0 1v1m0 1v2m0 1v7m0 1v2m0 1v4m0 1v1m0 1v1m0 1v1m0 1v3m0 1v1m0 1v1m0 1v4m0 1v4m0 1v1m0 1v1m0 1v2m0 1v2m0 1v2m0 1v3m0 1v1m0 1v1m0 1v3m0 1v3m0 1v1m0 1v1m0 1v1m0 1v4m0 1v7m0 1v3m0 1v30m0 1v3m0 1v2m0 1v7m0 1v3m0 2v2m0 6v1m0 2v1m0 4v2m0 2v2m0 2v6m0 1v3m0 1v2m0 2v3m0 1v2m0 5v2m0 3v2m0 2v1m0 3v3m0 1v3m0 1v2m0 1v7m0 1v3m0 1v2m0 2v3m0 5v1m0 2v3m0 2v2m0 2v2m0 2v2m0 2v3m0 8v3m0 2v1m0 3v1m0 1v3m0 1v3m0 2v2m0 2v2m0 1v3m0 2v3m0 1v2m0 1v2m0 3v3m0 1v2m0 2v3m0 1v3m0 1v3m0 1v2m0 1v3m0 1v3m0 5v3m0 1v3m0 1v3M295.5 66v5m0 1v2m0 1v2m0 1v1m0 1v1m0 1v1m0 1v2m0 1v1m0 1v1m0 1v1m0 1v1m0 1v3m0 1v1m0 1v2m0 1v2m0 1v6m0 1v1m0 1v1m0 1v1m0 1v1m0 1v3m0 1v2m0 1v1m0 1v2m0 1v8m0 1v1m0 1v1m0 1v1m0 1v4m0 1v5m0 1v1m0 1v3m0 1v7m0 1v30m0 5v3m0 1v2m0 2v2m0 1v4m0 1v3m0 1v1m0 3v1m0 3v2m0 1v4m0 1v1m0 3v6m0 1v6m0 2v3m0 1v2m0 2v2m0 2v3m0 5v3m0 1v3m0 1v3m0 1v2m0 1v4m0 8v4m0 12v2m0 2v2m0 2v3m0 1v2m0 1v4m0 1v2m0 1v3m0 2v2m0 2v5m0 2v1m0 3v3m0 1v7m0 1v6m0 2v2m0 1v4m0 1v3m0 1v3m0 1v2m0 2v3m0 1v3m0 1v2m0 1v6m0 2v7m0 1v2m0 2v3m0 1v3m0 1v2m0 2v1M296.5 66v2m0 1v2m0 1v2m0 1v1m0 1v1m0 1v1m0 1v1m0 1v2m0 1v2m0 1v1m0 1v1m0 1v2m0 1v2m0 1v1m0 1v2m0 1v1m0 1v3m0 1v7m0 1v2m0 1v2m0 1v1m0 1v1m0 1v2m0 1v2m0 1v1m0 1v1m0 1v1m0 1v3m0 1v1m0 1v1m0 1v4m0 1v2m0 1v2m0 1v2m0 1v3m0 1v3m0 1v3m0 1v7m0 1v7m0 1v17m0 2v3m0 1v3m0 1v1m0 3v3m0 1v3m0 1v2m0 2v3m0 5v2m0 2v6m0 1v3m0 1v10m0 2v2m0 2v3m0 1v3m0 9v1m0 2v7m0 2v2m0 2v1m0 3v2m0 1v3m0 1v2m0 2v3m0 1v3m0 1v2m0 2v5m0 2v1m0 3v1m0 4v6m0 2v1m0 3v3m0 1v1m0 10v3m0 5v2m0 2v3m0 5v1m0 3v2m0 2v2m0 2v7m0 1v1m0 3v2m0 1v2m0 2v3m0 1v3m0 1v3m0 1v1m0 2v2m0 3v5M297.5 66v4m0 1v4m0 1v3m0 1v1m0 1v2m0 1v2m0 1v1m0 1v2m0 1v1m0 1v4m0 1v3m0 1v1m0 1v1m0 1v1m0 1v5m0 1v1m0 1v2m0 1v4m0 1v5m0 1v1m0 1v2m0 1v1m0 1v2m0 1v1m0 1v1m0 1v3m0 1v2m0 1v2m0 1v2m0 1v2m0 1v7m0 1v3m0 1v3m0 1v26m0 5v3m0 1v3m0 5v6m0 2v6m0 2v2m0 2v2m0 2v2m0 2v2m0 1v6m0 2v3m0 1v3m0 1v3m0 1v1m0 2v3m0 2v3m0 1v2m0 2v2m0 2v2m0 2v3m0 1v2m0 1v4m0 1v2m0 1v3m0 1v2m0 2v5m0 2v3m0 2v2m0 1v1m0 3v6m0 3v3m0 1v2m0 2v2m0 1v4m0 1v2m0 1v3m0 1v1m0 2v4m0 9v6m0 2v6m0 2v3m0 1v3m0 1v1m0 3v2m0 2v2m0 1v2m0 2v3m0 1v2m0 2v3m0 1v2m0 1v2m0 2v3m0 2v1m0 3v2M298.5 66v3m0 1v1m0 1v2m0 1v3m0 1v1m0 1v1m0 1v1m0 1v1m0 1v7m0 1v1m0 1v1m0 1v3m0 1v1m0 1v1m0 1v1m0 1v1m0 1v3m0 1v1m0 1v2m0 1v3m0 1v1m0 1v3m0 1v1m0 1v1m0 1v2m0 1v2m0 1v3m0 1v3m0 1v3m0 1v1m0 1v2m0 1v2m0 1v1m0 1v11m0 1v30m0 1v2m0 2v1m0 2v4m0 1v2m0 2v1m0 3v1m0 2v1m0 4v1m0 2v4m0 1v1m0 3v3m0 1v2m0 1v3m0 1v3m0 1v3m0 1v3m0 1v2m0 1v4m0 1v1m0 3v3m0 1v2m0 2v2m0 2v3m0 1v3m0 1v3m0 8v3m0 1v2m0 6v2m0 6v3m0 1v3m0 1v3m0 1v3m0 1v2m0 2v3m0 1v3m0 1v3m0 1v2m0 1v2m0 2v2m0 1v3m0 1v4m0 1v1m0 3v3m0 1v2m0 2v10m0 2v3m0 1v2m0 2v2m0 2v2m0 1v2m0 2v5m0 3v1m0 3v2m0 2v3m0 5v1m0 3v2m0 1v7M299.5 66v3m0 1v2m0 1v1m0 1v1m0 1v3m0 1v1m0 1v2m0 1v5m0 1v1m0 1v1m0 1v1m0 1v1m0 1v2m0 1v1m0 1v1m0 1v1m0 1v1m0 1v1m0 1v1m0 1v1m0 1v4m0 1v1m0 1v1m0 1v1m0 1v1m0 1v1m0 1v1m0 1v1m0 1v2m0 1v1m0 1v3m0 1v2m0 1v5m0 1v2m0 1v1m0 1v1m0 1v1m0 1v10m0 1v30m0 1v3m0 1v2m0 2v2m0 2v3m0 1v3m0 1v3m0 1v3m0 1v3m0 5v3m0 1v2m0 2v2m0 1v3m0 1v2m0 2v3m0 1v3m0 1v2m0 2v3m0 1v3m0 1v6m0 1v3m0 2v3m0 1v3m0 1v3m0 1v3m0 1v2m0 5v3m0 1v3m0 1v3m0 1v2m0 2v2m0 2v3m0 5v2m0 2v2m0 2v7m0 1v1m0 3v2m0 1v1m0 3v6m0 2v3m0 1v2m0 2v2m0 2v3m0 1v1m0 3v3m0 1v3m0 1v1m0 3v2m0 1v3m0 2v2m0 1v3m0 1v2m0 1v5m0 4v2m0 2v3m0 1v2m0 1v3m0 2v3m0 1v3M300.5 66v2m0 1v2m0 1v2m0 1v1m0 1v1m0 1v5m0 1v1m0 1v1m0 1v3m0 1v3m0 1v1m0 1v1m0 1v1m0 1v2m0 1v1m0 1v1m0 1v1m0 1v2m0 1v4m0 1v5m0 1v2m0 1v1m0 1v4m0 1v1m0 1v3m0 1v1m0 1v1m0 1v1m0 1v6m0 1v1m0 1v1m0 1v1m0 1v12m0 1v30m0 1v3m0 1v2m0 2v2m0 6v2m0 2v3m0 1v3m0 1v3m0 5v6m0 2v2m0 1v3m0 5v2m0 1v4m0 5v2m0 2v2m0 2v3m0 1v2m0 1v3m0 6v2m0 2v2m0 2v3m0 1v2m0 1v1m0 3v2m0 2v2m0 1v3m0 2v3m0 8v1m0 4v3m0 9v1m0 3v2m0 2v2m0 1v6m0 2v2m0 2v3m0 1v2m0 2v2m0 2v2m0 2v2m0 2v3m0 1v3m0 1v2m0 5v4m0 1v2m0 1v10m0 2v3m0 1v1m0 7v3m0 1v2m0 2v4M301.5 66v3m0 1v2m0 1v1m0 1v3m0 1v1m0 1v3m0 1v1m0 1v2m0 1v1m0 1v1m0 1v1m0 1v3m0 1v5m0 1v5m0 1v1m0 1v1m0 1v3m0 1v1m0 1v3m0 1v1m0 1v5m0 1v1m0 1v2m0 1v2m0 1v2m0 1v1m0 1v1m0 1v2m0 1v1m0 1v1m0 1v1m0 1v1m0 1v2m0 1v6m0 1v3m0 1v15m0 1v14m0 1v1m0 3v2m0 1v1m0 8v2m0 6v3m0 1v3m0 5v2m0 2v3m0 1v2m0 4v3m0 1v1m0 4v6m0 2v5m0 3v2m0 6v3m0 1v3m0 1v5m0 3v3m0 1v2m0 1v2m0 2v1m0 3v3m0 1v2m0 2v2m0 1v1m0 4v3m0 1v3m0 1v2m0 1v4m0 1v2m0 1v3m0 2v3m0 1v2m0 1v1m0 3v1m0 3v3m0 1v3m0 1v3m0 1v6m0 1v4m0 5v3m0 1v1m0 3v2m0 1v7m0 1v3m0 1v3m0 1v1m0 3v3m0 1v3m0 1v2m0 2v3M302.5 66v2m0 1v2m0 1v3m0 1v1m0 1v3m0 1v5m0 1v1m0 1v2m0 1v1m0 1v2m0 1v3m0 1v3m0 1v1m0 1v1m0 1v1m0 1v1m0 1v2m0 1v7m0 1v1m0 1v4m0 1v1m0 1v1m0 1v5m0 1v3m0 1v1m0 1v1m0 1v1m0 1v1m0 1v1m0 1v1m0 1v2m0 1v8m0 1v3m0 1v3m0 1v3m0 1v22m0 1v3m0 1v5m0 3v1m0 2v4m0 1v3m0 1v1m0 3v3m0 1v1m0 3v2m0 6v2m0 1v3m0 1v2m0 1v4m0 1v3m0 1v2m0 1v3m0 2v1m0 3v2m0 6v2m0 2v3m0 1v5m0 3v3m0 4v3m0 1v2m0 1v12m0 1v2m0 2v2m0 1v3m0 2v1m0 3v2m0 2v7m0 1v2m0 1v7m0 5v1m0 2v7m0 2v1m0 2v4m0 1v3m0 1v3m0 1v7m0 5v2m0 2v2m0 1v2m0 2v2m0 6v6m0 2v7m0 5v2M303.5 66v3m0 1v2m0 1v1m0 1v2m0 1v1m0 1v1m0 1v2m0 1v3m0 1v2m0 1v1m0 1v1m0 1v2m0 1v1m0 1v2m0 1v6m0 1v2m0 1v1m0 1v8m0 1v1m0 1v3m0 1v1m0 1v1m0 1v2m0 1v3m0 1v5m0 1v3m0 1v2m0 1v1m0 1v1m0 1v1m0 1v63m0 1v3m0 1v50m0 1v3m0 1v3m0 1v54m0 1v58m0 1v3m0 1v46M304.5 66v2m0 1v2m0 1v1m0 1v1m0 1v2m0 1v1m0 1v1m0 1v1m0 1v2m0 1v3m0 1v3m0 1v1m0 1v1m0 1v3m0 1v1m0 1v1m0 1v4m0 1v3m0 1v3m0 1v1m0 1v2m0 1v1m0 1v2m0 1v2m0 1v1m0 1v6m0 1v6m0 1v3m0 1v2m0 1v1m0 1v2m0 1v7m0 1v3m0 1v54m0 1v50m0 1v3m0 1v3m0 1v54m0 1v38m0 1v15m0 1v3m0 1v3m0 1v3m0 1v14m0 1v32M305.5 66v2m0 1v3m0 1v2m0 1v2m0 1v1m0 1v5m0 1v3m0 1v2m0 1v1m0 1v1m0 1v1m0 1v1m0 1v1m0 1v1m0 1v1m0 1v1m0 1v1m0 1v2m0 1v3m0 1v1m0 1v1m0 1v2m0 1v1m0 1v6m0 1v4m0 1v5m0 1v1m0 1v3m0 1v8m0 1v12m0 1v3m0 1v7m0 1v42m0 1v3m0 1v46m0 1v3m0 1v3m0 1v30m0 1v19m0 1v3m0 1v3m0 1v50m0 1v3m0 1v3m0 1v51M306.5 66v3m0 1v1m0 1v2m0 1v1m0 1v5m0 1v4m0 1v3m0 1v1m0 1v1m0 1v5m0 1v2m0 1v2m0 1v2m0 1v1m0 1v1m0 1v2m0 1v1m0 1v1m0 1v3m0 1v2m0 1v6m0 1v1m0 1v5m0 1v3m0 1v1m0 1v2m0 1v1m0 1v1m0 1v2m0 1v1m0 1v7m0 1v7m0 1v38m0 1v11m0 1v50m0 1v3m0 1v3m0 1v50m0 1v11m0 1v50m0 1v3m0 1v3m0 1v44M307.5 66v2m0 1v2m0 1v1m0 1v1m0 1v2m0 1v2m0 1v2m0 1v4m0 1v4m0 1v1m0 1v1m0 1v1m0 1v2m0 1v1m0 1v3m0 1v1m0 1v5m0 1v4m0 1v1m0 1v1m0 1v1m0 1v2m0 1v3m0 1v2m0 1v1m0 1v2m0 1v2m0 1v3m0 1v6m0 1v1m0 1v1m0 1v11m0 1v11m0 1v54m0 1v42m0 1v3m0 1v54m0 1v50m0 1v7m0 1v3m0 1v22m0 1v19M308.5 66v6m0 1v1m0 1v1m0 1v1m0 1v1m0 1v2m0 1v1m0 1v1m0 1v2m0 1v6m0 1v1m0 1v1m0 1v2m0 1v2m0 1v1m0 1v1m0 1v1m0 1v2m0 1v3m0 1v3m0 1v3m0 1v3m0 1v2m0 1v2m0 1v1m0 1v1m0 1v1m0 1v6m0 1v1m0 1v2m0 1v1m0 1v2m0 1v121m0 1v34m0 1v7m0 1v7m0 1v11m0 1v54m0 1v3m0 1v3m0 1v44M309.5 66v4m0 1v1m0 1v1m0 1v6m0 1v1m0 1v5m0 1v1m0 1v2m0 1v1m0 1v1m0 1v6m0 1v2m0 1v1m0 1v2m0 1v1m0 1v4m0 1v3m0 1v1m0 1v3m0 1v1m0 1v1m0 1v1m0 1v1m0 1v1m0 1v8m0 1v1m0 1v1m0 1v1m0 1v3m0 1v1m0 1v66m0 1v54m0 1v3m0 1v54m0 1v3m0 1v7m0 1v46m0 1v3m0 1v38m0 1v9M310.5 66v6m0 1v1m0 1v2m0 1v2m0 1v3m0 1v2m0 1v1m0 1v1m0 1v1m0 1v2m0 1v1m0 1v2m0 1v4m0 1v1m0 1v2m0 1v2m0 1v1m0 1v1m0 1v3m0 1v2m0 1v1m0 1v1m0 1v5m0 1v1m0 1v2m0 1v4m0 1v1m0 1v4m0 1v2m0 1v1m0 1v1m0 1v13m0 1v50m0 1v3m0 1v3m0 1v50m0 1v3m0 1v54m0 1v38m0 1v11m0 1v3m0 1v7m0 1v48M311.5 66v2m0 1v2m0 1v3m0 1v1m0 1v2m0 1v1m0 1v2m0 1v2m0 1v1m0 1v2m0 1v1m0 1v2m0 1v1m0 1v1m0 1v1m0 1v1m0 1v1m0 1v1m0 1v1m0 1v1m0 1v1m0 1v1m0 1v1m0 1v3m0 1v1m0 1v1m0 1v2m0 1v2m0 1v1m0 1v1m0 1v1m0 1v1m0 1v2m0 1v1m0 1v2m0 1v1m0 1v2m0 1v1m0 1v3m0 1v11m0 1v50m0 1v3m0 1v54m0 1v3m0 1v109m0 1v3m0 1v7m0 1v22m0 1v23M312.5 66v6m0 1v5m0 1v2m0 1v1m0 1v1m0 1v2m0 1v3m0 1v1m0 1v2m0 1v2m0 1v7m0 1v1m0 1v1m0 1v2m0 1v5m0 1v1m0 1v1m0 1v3m0 1v1m0 1v1m0 1v6m0 1v3m0 1v2m0 1v1m0 1v1m0 1v4m0 1v4m0 1v11m0 1v54m0 1v54m0 1v3m0 1v3m0 1v18m0 1v31m0 1v3m0 1v3m0 1v97M313.5 66v3m0 1v2m0 3v1m0 1v1m0 2v1m0 1v1m0 2v3m0 2v1m0 1v2m0 3v2m0 2v1m0 1v1m0 1v1m0 1v2m0 1v1m0 2v1m0 2v1m0 2v1m0 1v1m0 2v2m0 2v2m0 1v1m0 1v2m0 1v2m0 1v1m0 1v2m0 8v1m0 11v10m0 1v3m0 1v30m0 1v19m0 1v22m0 1v31m0 1v3m0 1v50m0 1v7m0 1v3m0 1v50m0 1v3m0 1v49M314.5 66v2m0 1v4m0 2v2m0 1v1m0 1v1m0 1v2m0 2v1m0 1v2m0 2v1m0 1v2m0 1v1m0 3v1m0 1v1m0 1v2m0 3v1m0 2v1m0 2v4m0 6v1m0 2v1m0 1v1m0 3v2m0 1v1m0 6v2m0 1v1m0 1v2m0 5v1m0 1v1m0 3v2m0 1v7m0 1v54m0 1v3m0 1v3m0 1v46m0 1v3m0 1v54m0 1v3m0 1v46m0 1v3m0 1v3m0 1v3m0 1v46M315.5 66v2m0 1v1m0 1v1m0 1v1m0 7v1m0 3v2m0 3v1m0 1v1m0 1v1m0 1v1m0 5v1m0 3v1m0 3v1m0 3v1m0 2v1m0 1v1m0 1v2m0 2v1m0 1v1m0 1v1m0 5v3m0 1v5m0 1v1m0 1v1m0 3v1m0 1v2m0 1v2m0 1v1m0 3v10m0 1v54m0 1v3m0 1v46m0 1v3m0 1v58m0 1v3m0 1v42m0 1v7m0 1v7m0 1v34m0 1v3m0 1v21M316.5 66v2m0 1v1m0 6v1m0 2v1m0 1v1m0 1v1m0 2v1m0 1v1m0 6v1m0 1v1m0 4v1m0 1v1m0 1v1m0 1v1m0 1v3m0 1v1m0 1v1m0 2v1m0 3v1m0 1v1m0 3v3m0 2v1m0 1v1m0 4v1m0 1v1m0 1v3m0 1v3m0 2v1m0 2v1m0 1v1m0 2v7m0 1v3m0 1v3m0 1v50m0 1v3m0 1v22m0 1v27m0 1v42m0 1v7m0 1v7m0 1v58m0 1v7m0 1v45M317.5 66v2m0 1v6m0 1v7m0 1v2m0 2v3m0 1v1m0 2v1m0 5v1m0 2v2m0 1v1m0 1v1m0 1v2m0 1v1m0 1v1m0 1v1m0 1v5m0 1v2m0 3v1m0 2v1m0 2v1m0 3v1m0 1v1m0 2v1m0 1v1m0 3v1m0 1v1m0 4v1m0 3v6m0 1v3m0 1v54m0 1v54m0 1v54m0 1v3m0 1v22m0 1v43m0 1v40M318.5 66v2m0 2v2m0 1v1m0 6v1m0 1v1m0 2v1m0 1v2m0 1v1m0 1v2m0 2v1m0 2v3m0 1v2m0 1v2m0 1v2m0 4v1m0 2v2m0 1v1m0 2v2m0 2v2m0 4v1m0 1v1m0 2v3m0 1v1m0 1v2m0 1v1m0 4v1m0 2v2m0 1v1m0 2v11m0 1v50m0 1v3m0 1v54m0 1v3m0 1v54m0 1v3m0 1v7m0 1v42m0 1v3m0 1v3m0 1v7m0 1v26m0 1v7M319.5 66v2m0 2v2m0 1v1m0 5v1m0 1v1m0 2v1m0 2v1m0 2v2m0 1v1m0 4v1m0 1v2m0 1v1m0 1v1m0 3v1m0 2v1m0 4v1m0 2v1m0 3v1m0 1v2m0 1v1m0 1v1m0 1v1m0 1v2m0 4v1m0 1v1m0 1v4m0 2v1m0 1v1m0 1v3m0 2v1m0 1v11m0 1v3m0 1v30m0 1v19m0 1v3m0 1v18m0 1v35m0 1v54m0 1v3m0 1v38m0 1v3m0 1v7m0 1v3m0 1v3m0 1v38m0 1v8M320.5 66v2m0 1v1m0 1v1m0 4v2m0 1v2m0 1v1m0 1v3m0 1v1m0 4v1m0 1v1m0 1v1m0 1v1m0 2v2m0 2v3m0 4v1m0 2v2m0 9v3m0 2v1m0 1v1m0 1v3m0 1v1m0 1v2m0 1v2m0 1v4m0 2v2m0 1v1m0 2v1m0 1v11m0 1v54m0 1v54m0 1v38m0 1v19m0 1v54m0 1v3m0 1v7m0 1v45M321.5 66v2m0 2v2m0 2v1m0 1v2m0 1v1m0 1v2m0 1v2m0 2v1m0 1v4m0 1v4m0 1v1m0 1v1m0 2v1m0 5v2m0 3v4m0 2v1m0 1v3m0 1v1m0 3v1m0 3v1m0 1v1m0 3v2m0 2v1m0 1v4m0 8v17m0 1v50m0 1v50m0 1v7m0 1v54m0 1v3m0 1v46m0 1v3m0 1v3m0 1v3m0 1v3m0 1v3m0 1v14m0 1v21M322.5 66v6m0 1v1m0 1v1m0 3v1m0 2v1m0 1v1m0 2v1m0 1v3m0 1v1m0 1v1m0 1v1m0 2v1m0 1v2m0 1v1m0 1v3m0 3v1m0 1v1m0 7v1m0 2v2m0 3v1m0 2v2m0 3v1m0 3v1m0 1v1m0 1v1m0 1v2m0 5v1m0 1v1m0 1v2m0 1v14m0 1v50m0 1v46m0 1v7m0 1v3m0 1v50m0 1v3m0 1v3m0 1v34m0 1v15m0 1v3m0 1v3m0 1v30m0 1v18M323.5 66v2m0 2v3m0 2v1m0 1v1m0 2v1m0 2v1m0 1v2m0 2v1m0 1v3m0 1v2m0 1v1m0 2v1m0 1v1m0 1v1m0 2v1m0 4v1m0 1v2m0 1v2m0 2v1m0 2v1m0 10v1m0 2v1m0 1v3m0 3v1m0 2v1m0 3v1m0 4v1m0 1v1m0 1v6m0 1v7m0 1v15m0 1v34m0 1v58m0 1v38m0 1v19m0 1v54m0 1v38m0 1v16M324.5 66v5m0 4v1m0 3v1m0 1v2m0 1v2m0 3v3m0 1v2m0 2v1m0 1v2m0 1v1m0 1v1m0 6v2m0 1v1m0 4v1m0 1v1m0 1v1m0 3v1m0 1v1m0 1v2m0 2v1m0 2v1m0 4v1m0 2v2m0 1v2m0 1v1m0 4v1m0 2v1m0 1v7m0 1v3m0 1v54m0 1v109m0 1v3m0 1v3m0 1v3m0 1v30m0 1v15m0 1v3m0 1v3m0 1v43M325.5 66v2m0 1v2m0 2v1m0 2v1m0 1v2m0 1v2m0 3v1m0 5v1m0 1v1m0 1v2m0 1v1m0 1v1m0 5v2m0 1v1m0 1v1m0 2v1m0 1v1m0 1v1m0 1v2m0 1v1m0 1v1m0 1v1m0 1v1m0 1v1m0 1v1m0 2v1m0 1v3m0 2v1m0 1v2m0 1v1m0 1v1m0 1v2m0 1v1m0 2v1m0 3v65m0 1v3m0 1v38m0 1v11m0 1v3m0 1v3m0 1v54m0 1v38m0 1v11m0 1v3m0 1v7m0 1v3m0 1v14m0 1v21M326.5 66v4m0 3v1m0 1v2m0 4v2m0 3v1m0 1v1m0 1v2m0 2v1m0 1v1m0 1v1m0 3v1m0 3v1m0 1v2m0 1v4m0 2v2m0 1v1m0 1v1m0 1v1m0 2v1m0 1v1m0 1v2m0 1v1m0 1v1m0 2v3m0 2v1m0 2v2m0 1v1m0 1v1m0 1v1m0 2v1m0 2v1m0 2v14m0 1v46m0 1v3m0 1v3m0 1v50m0 1v3m0 1v19m0 1v26m0 1v7m0 1v3m0 1v54m0 1v7m0 1v30m0 1v7m0 1v3M327.5 66v3m0 1v1m0 3v3m0 2v1m0 1v1m0 2v2m0 1v3m0 1v1m0 2v2m0 2v1m0 1v2m0 1v1m0 2v1m0 3v1m0 5v2m0 3v2m0 1v1m0 1v1m0 2v3m0 1v1m0 1v2m0 2v2m0 1v2m0 2v1m0 1v5m0 1v1m0 3v2m0 2v3m0 1v11m0 1v3m0 1v46m0 1v50m0 1v3m0 1v3m0 1v42m0 1v11m0 1v50m0 1v7m0 1v3m0 1v46M328.5 66v3m0 3v2m0 1v1m0 1v1m0 1v3m0 5v1m0 1v2m0 1v2m0 1v1m0 1v1m0 1v1m0 7v1m0 2v1m0 2v1m0 4v1m0 2v3m0 1v1m0 1v1m0 2v2m0 1v1m0 1v3m0 1v1m0 1v2m0 1v1m0 2v1m0 1v1m0 1v2m0 1v2m0 4v2m0 1v10m0 1v15m0 1v34m0 1v3m0 1v11m0 1v42m0 1v3m0 1v3m0 1v46m0 1v11m0 1v22m0 1v19m0 1v3m0 1v3m0 1v7m0 1v22m0 1v18M329.5 66v2m0 1v1m0 1v1m0 1v1m0 3v1m0 1v3m0 1v1m0 1v2m0 2v1m0 1v1m0 2v1m0 4v2m0 1v2m0 2v1m0 1v2m0 1v1m0 1v1m0 3v1m0 1v1m0 3v1m0 2v3m0 2v3m0 1v2m0 2v1m0 1v1m0 2v1m0 3v2m0 2v2m0 1v1m0 1v2m0 3v66m0 1v3m0 1v50m0 1v50m0 1v3m0 1v3m0 1v38m0 1v11m0 1v7m0 1v3m0 1v44M330.5 66v2m0 2v2m0 1v1m0 3v2m0 1v1m0 1v1m0 2v1m0 1v1m0 2v2m0 6v3m0 1v2m0 1v2m0 1v1m0 2v1m0 3v1m0 3v1m0 2v1m0 4v1m0 2v1m0 4v1m0 1v3m0 1v1m0 1v1m0 2v2m0 1v1m0 4v2m0 1v1m0 2v1m0 2v65m0 1v22m0 1v31m0 1v3m0 1v58m0 1v34m0 1v11m0 1v3m0 1v7m0 1v42M332.5 66v1m0 2v3m0 3v1m0 1v1m0 1v3m0 1v1m0 1v4m0 2v1m0 2v1m0 1v1m0 1v2m0 2v6m0 4v1m0 1v4m0 6v2m0 7v1m0 1v2m0 1v3m0 3v1m0 2v1m0 1v1m0 1v3m0 1v2m0 1v1m0 4v6m0 1v3m0 1v3m0 1v50m0 1v22m0 1v27m0 1v3m0 1v54m0 1v3m0 1v7m0 1v46m0 1v3m0 1v3m0 1v46m0 1v16M333.5 66v1m0 6v2m0 2v1m0 4v5m0 6v2m0 1v1m0 2v1m0 3v1m0 1v1m0 1v1m0 5v2m0 3v2m0 12v1m0 1v2m0 7v2m0 4v1m0 3v2m0 3v2m0 1v1m0 1v10m0 1v3m0 1v18m0 1v23m0 1v7m0 1v3m0 1v7m0 1v14m0 1v7m0 1v19m0 1v3m0 1v54m0 1v3m0 1v30m0 1v3m0 1v7m0 1v11m0 1v7m0 1v14m0 1v38M335.5 67v1m0 1v1m0 1v1m0 5v3m0 3v4m0 1v3m0 2v1m0 1v1m0 1v1m0 1v4m0 3v1m0 6v1m0 10v1m0 1v2m0 10v5m0 2v1m0 2v2m0 3v2m0 2v1m0 4v11m0 1v50m0 1v3m0 1v50m0 1v3m0 1v15m0 1v26m0 1v15m0 1v3m0 1v50m0 1v3m0 1v3m0 1v3m0 1v26m0 1v3m0 1v7m0 1v7M336.5 69v3m0 1v3m0 2v1m0 4v2m0 2v1m0 2v3m0 1v1m0 2v3m0 3v1m0 1v1m0 3v1m0 2v1m0 2v1m0 2v1m0 2v1m0 2v2m0 1v4m0 3v8m0 3v3m0 3v1m0 5v2m0 4v6m0 1v3m0 1v38m0 1v3m0 1v11m0 1v54m0 1v3m0 1v26m0 1v11m0 1v11m0 1v11m0 1v11m0 1v6m0 1v7m0 1v7m0 1v7m0 1v3m0 1v3m0 1v3m0 1v14m0 1v31M338.5 72v6m0 4v2m0 2v1m0 4v6m0 1v2m0 2v5m0 3v1m0 3v3m0 2v4m0 1v1m0 4v1m0 2v5m0 3v1m0 1v1m0 1v2m0 3v3m0 1v1m0 1v2m0 1v3m0 2v6m0 1v3m0 1v54m0 1v3m0 1v50m0 1v3m0 1v15m0 1v30m0 1v3m0 1v3m0 1v3m0 1v3m0 1v14m0 1v31m0 1v3m0 1v3m0 1v3m0 1v22m0 1v19M339.5 72v1m0 5v3m0 1v2m0 1v3m0 4v2m0 4v2m0 1v1m0 4v1m0 1v1m0 2v6m0 2v1m0 4v1m0 2v1m0 1v2m0 2v9m0 1v3m0 1v4m0 4v1m0 1v16m0 1v3m0 1v50m0 1v3m0 1v22m0 1v31m0 1v22m0 1v19m0 1v7m0 1v30m0 1v19m0 1v7m0 1v3m0 1v3m0 1v3m0 1v3m0 1v10m0 1v19m0 1v16M341.5 67v1m0 3v1m0 1v2m0 6v6m0 5v1m0 5v1m0 1v4m0 2v2m0 1v10m0 2v2m0 4v2m0 1v3m0 1v1m0 1v2m0 10v1m0 1v2m0 1v1m0 1v2m0 1v2m0 2v7m0 1v3m0 1v19m0 1v18m0 1v15m0 1v22m0 1v31m0 1v3m0 1v3m0 1v46m0 1v3m0 1v22m0 1v7m0 1v19m0 1v3m0 1v3m0 1v3m0 1v3m0 1v22m0 1v19m0 1v11M342.5 66v1m0 3v1m0 1v7m0 1v1m0 2v1m0 2v8m0 6v6m0 1v4m0 1v4m0 1v2m0 1v1m0 2v1m0 2v2m0 2v1m0 3v2m0 1v1m0 5v2m0 3v7m0 1v1m0 6v2m0 1v3m0 1v3m0 1v11m0 1v10m0 1v27m0 1v3m0 1v58m0 1v3m0 1v34m0 1v7m0 1v3m0 1v3m0 1v3m0 1v54m0 1v3m0 1v3m0 1v22m0 1v7m0 1v19M344.5 66v5m0 3v2m0 1v3m0 3v1m0 5v1m0 13v1m0 1v1m0 7v4m0 3v1m0 1v2m0 1v3m0 2v1m0 4v1m0 2v1m0 1v4m0 3v1m0 1v7m0 1v1m0 1v1m0 2v11m0 1v15m0 1v34m0 1v3m0 1v11m0 1v42m0 1v3m0 1v34m0 1v15m0 1v3m0 1v38m0 1v15m0 1v3m0 1v3m0 1v30m0 1v7m0 1v11M347.5 66v1m0 4v1m0 2v3m0 3v2m0 2v1m0 1v2m0 1v1m0 1v1m0 4v3m0 2v8m0 1v1m0 2v3m0 3v1m0 1v1m0 1v3m0 2v2m0 1v2m0 1v2m0 1v3m0 1v2m0 4v4m0 1v1m0 2v2m0 2v1m0 1v1m0 1v10m0 1v15m0 1v14m0 1v23m0 1v3m0 1v18m0 1v7m0 1v23m0 1v7m0 1v11m0 1v38m0 1v3m0 1v46m0 1v3m0 1v3m0 1v3m0 1v3m0 1v3m0 1v26m0 1v13M349.5 66v1m0 2v1m0 4v1m0 1v1m0 1v2m0 1v2m0 3v2m0 3v2m0 1v3m0 3v5m0 2v6m0 1v1m0 4v4m0 5v1m0 1v1m0 2v1m0 1v1m0 1v1m0 3v2m0 4v3m0 3v2m0 2v12m0 1v3m0 1v3m0 1v46m0 1v3m0 1v50m0 1v3m0 1v3m0 1v11m0 1v38m0 1v3m0 1v3m0 1v50m0 1v11m0 1v26m0 1v3m0 1v15m0 1v2M352.5 66v2m0 1v5m0 3v3m0 3v2m0 1v1m0 1v3m0 3v3m0 2v1m0 1v1m0 5v2m0 3v2m0 1v1m0 1v4m0 1v2m0 1v3m0 1v2m0 1v1m0 1v1m0 1v5m0 4v2m0 2v6m0 1v1m0 1v4m0 1v6m0 1v7m0 1v15m0 1v34m0 1v54m0 1v3m0 1v26m0 1v27m0 1v3m0 1v38m0 1v11m0 1v3m0 1v3m0 1v34m0 1v3m0 1v10M354.5 66v1m0 5v1m0 8v1m0 1v1m0 1v2m0 1v2m0 5v1m0 1v1m0 2v2m0 1v1m0 2v1m0 2v2m0 1v1m0 1v1m0 2v1m0 1v1m0 1v1m0 1v2m0 2v2m0 1v4m0 4v1m0 1v2m0 2v1m0 2v4m0 5v1m0 1v1m0 2v1m0 1v53m0 1v7m0 1v3m0 1v38m0 1v15m0 1v3m0 1v50m0 1v7m0 1v15m0 1v34m0 1v7m0 1v38m0 1v13M357.5 66v4m0 3v1m0 1v3m0 1v1m0 2v1m0 1v2m0 2v2m0 1v2m0 1v1m0 1v7m0 1v2m0 1v1m0 1v1m0 3v1m0 1v1m0 1v3m0 1v3m0 1v2m0 4v2m0 2v5m0 1v1m0 2v1m0 3v1m0 1v1m0 4v1m0 1v1m0 2v1m0 1v66m0 1v3m0 1v15m0 1v38m0 1v22m0 1v11m0 1v7m0 1v3m0 1v3m0 1v3m0 1v3m0 1v30m0 1v23m0 1v3m0 1v49M359.5 68v2m0 3v2m0 1v9m0 2v4m0 4v1m0 1v1m0 2v4m0 6v1m0 1v1m0 1v5m0 1v4m0 1v1m0 1v1m0 4v5m0 1v1m0 1v3m0 2v1m0 1v1m0 1v4m0 1v2m0 2v11m0 1v3m0 1v3m0 1v34m0 1v11m0 1v3m0 1v58m0 1v3m0 1v50m0 1v3m0 1v42m0 1v11m0 1v67M362.5 67v3m0 6v3m0 2v1m0 6v1m0 1v1m0 2v1m0 2v2m0 2v1m0 1v1m0 2v4m0 2v3m0 3v1m0 1v1m0 4v6m0 1v4m0 1v2m0 7v2m0 2v5m0 2v1m0 2v2m0 1v11m0 1v3m0 1v46m0 1v3m0 1v54m0 1v11m0 1v38m0 1v7m0 1v3m0 1v30m0 1v7m0 1v3m0 1v7m0 1v3m0 1v3m0 1v3m0 1v3m0 1v22m0 1v22M364.5 67v1m0 1v2m0 7v2m0 3v4m0 1v2m0 1v1m0 1v3m0 1v2m0 3v3m0 2v2m0 8v1m0 4v3m0 3v1m0 1v2m0 1v1m0 1v5m0 3v1m0 1v1m0 2v1m0 1v1m0 4v2m0 2v2m0 1v7m0 1v38m0 1v15m0 1v3m0 1v3m0 1v38m0 1v7m0 1v3m0 1v3m0 1v3m0 1v15m0 1v34m0 1v3m0 1v46m0 1v15m0 1v3m0 1v22m0 1v3m0 1v16M366.5 66v2m0 4v1m0 1v4m0 2v1m0 1v2m0 2v1m0 1v4m0 1v9m0 5v3m0 1v1m0 1v2m0 2v3m0 3v1m0 2v1m0 4v3m0 1v1m0 1v1m0 5v3m0 4v1m0 1v5m0 1v2m0 3v2m0 1v7m0 1v3m0 1v42m0 1v3m0 1v3m0 1v50m0 1v3m0 1v3m0 1v54m0 1v7m0 1v18m0 1v31m0 1v15m0 1v14m0 1v23M369.5 66v1m0 1v3m0 1v1m0 2v3m0 3v1m0 1v2m0 4v2m0 2v2m0 1v1m0 4v2m0 2v1m0 2v2m0 2v1m0 3v1m0 2v4m0 3v1m0 2v1m0 1v2m0 2v1m0 3v2m0 1v2m0 1v1m0 2v1m0 2v1m0 1v1m0 4v2m0 1v8m0 1v3m0 1v42m0 1v11m0 1v19m0 1v65m0 1v11m0 1v7m0 1v7m0 1v34m0 1v15m0 1v3m0 1v3m0 1v7m0 1v26m0 1v7m0 1v17M371.5 67v1m0 2v3m0 1v3m0 1v2m0 3v1m0 3v1m0 1v1m0 1v1m0 3v1m0 3v4m0 1v4m0 1v1m0 3v2m0 1v1m0 4v4m0 1v2m0 8v1m0 5v4m0 1v2m0 7v1m0 3v2m0 1v10m0 1v54m0 1v46m0 1v11m0 1v15m0 1v34m0 1v3m0 1v3m0 1v18m0 1v3m0 1v3m0 1v27m0 1v3m0 1v3m0 1v26m0 1v11m0 1v3m0 1v5M376.5 66v4m0 2v1m0 1v4m0 1v1m0 3v3m0 1v3m0 1v2m0 1v2m0 3v1m0 2v4m0 4v5m0 2v3m0 1v2m0 4v2m0 2v6m0 2v1m0 2v1m0 2v1m0 2v1m0 2v3m0 1v2m0 2v3m0 1v10m0 1v50m0 1v3m0 1v3m0 1v46m0 1v3m0 1v3m0 1v3m0 1v15m0 1v6m0 1v27m0 1v3m0 1v50m0 1v3m0 1v3m0 1v14m0 1v53M378.5 66v1m0 3v1m0 1v4m0 1v10m0 2v3m0 2v2m0 2v3m0 3v1m0 1v6m0 1v2m0 7v3m0 2v3m0 3v4m0 1v3m0 2v1m0 1v6m0 3v3m0 2v1m0 3v65m0 1v19m0 1v10m0 1v23m0 1v3m0 1v3m0 1v46m0 1v3m0 1v3m0 1v46m0 1v3m0 1v3m0 1v3m0 1v3m0 1v30m0 1v3m0 1v7m0 1v5M379.5 70v1m0 1v2m0 3v2m0 2v1m0 1v1m0 1v1m0 1v4m0 2v2m0 4v2m0 1v1m0 1v1m0 1v1m0 1v1m0 1v3m0 1v4m0 1v1m0 2v1m0 2v3m0 1v2m0 2v1m0 1v1m0 1v4m0 1v1m0 1v1m0 5v4m0 2v1m0 1v2m0 2v3m0 1v3m0 1v3m0 1v7m0 1v46m0 1v3m0 1v50m0 1v34m0 1v15m0 1v3m0 1v3m0 1v3m0 1v42m0 1v7m0 1v3m0 1v3m0 1v34m0 1v8M380.5 67v11m0 1v6m0 1v1m0 1v1m0 2v1m0 1v3m0 1v1m0 2v1m0 1v1m0 3v1m0 2v1m0 3v2m0 2v1m0 2v10m0 1v1m0 2v1m0 2v1m0 1v3m0 3v1m0 1v3m0 2v1m0 1v2m0 1v4m0 1v11m0 1v3m0 1v11m0 1v10m0 1v27m0 1v7m0 1v42m0 1v3m0 1v11m0 1v38m0 1v7m0 1v3m0 1v3m0 1v46m0 1v3m0 1v3m0 1v3m0 1v7m0 1v18m0 1v23M382.5 66v2m0 3v1m0 1v1m0 2v5m0 2v1m0 2v5m0 1v3m0 2v2m0 1v1m0 3v2m0 1v6m0 6v5m0 1v1m0 1v2m0 2v1m0 1v1m0 3v1m0 1v1m0 3v1m0 1v2m0 1v1m0 1v2m0 3v2m0 1v1m0 4v6m0 1v54m0 1v3m0 1v3m0 1v26m0 1v19m0 1v3m0 1v58m0 1v3m0 1v50m0 1v3m0 1v3m0 1v22m0 1v3m0 1v25M385.5 67v3m0 4v1m0 1v4m0 1v1m0 2v1m0 2v2m0 2v4m0 7v5m0 2v1m0 1v1m0 2v3m0 1v1m0 3v2m0 1v1m0 3v4m0 7v1m0 1v1m0 1v2m0 1v1m0 1v3m0 1v2m0 3v2m0 3v10m0 1v3m0 1v18m0 1v27m0 1v3m0 1v54m0 1v3m0 1v30m0 1v19m0 1v3m0 1v30m0 1v35m0 1v10m0 1v15m0 1v3m0 1v3m0 1v11M387.5 66v4m0 2v2m0 1v1m0 1v1m0 5v1m0 5v4m0 1v1m0 1v2m0 3v1m0 1v2m0 2v3m0 1v1m0 4v1m0 1v3m0 2v1m0 5v7m0 1v2m0 1v2m0 5v1m0 1v4m0 1v1m0 5v1m0 1v7m0 1v3m0 1v3m0 1v26m0 1v19m0 1v3m0 1v3m0 1v50m0 1v54m0 1v3m0 1v7m0 1v30m0 1v7m0 1v19m0 1v30m0 1v11M389.5 71v3m0 2v4m0 3v3m0 1v1m0 1v1m0 7v1m0 1v1m0 2v2m0 2v1m0 2v3m0 1v4m0 1v5m0 1v2m0 1v1m0 3v1m0 2v2m0 1v10m0 6v3m0 1v1m0 1v1m0 3v10m0 1v30m0 1v19m0 1v3m0 1v7m0 1v34m0 1v15m0 1v7m0 1v42m0 1v3m0 1v3m0 1v7m0 1v14m0 1v27m0 1v3m0 1v11m0 1v18m0 1v11m0 1v20M392.5 66v3m0 1v1m0 4v1m0 1v3m0 2v1m0 5v3m0 5v2m0 4v2m0 2v4m0 2v2m0 2v1m0 2v1m0 1v1m0 1v8m0 1v4m0 1v1m0 2v1m0 1v1m0 1v5m0 1v5m0 3v3m0 2v10m0 1v3m0 1v38m0 1v11m0 1v38m0 1v7m0 1v7m0 1v7m0 1v46m0 1v3m0 1v15m0 1v26m0 1v11m0 1v3m0 1v7m0 1v7m0 1v14m0 1v7m0 1v16M394.5 68v2m0 1v1m0 1v5m0 1v1m0 1v2m0 1v3m0 1v4m0 7v7m0 4v5m0 5v2m0 3v1m0 4v7m0 1v2m0 3v1m0 1v1m0 2v9m0 1v1m0 4v10m0 1v3m0 1v42m0 1v3m0 1v3m0 1v3m0 1v15m0 1v10m0 1v23m0 1v3m0 1v7m0 1v46m0 1v3m0 1v50m0 1v3m0 1v3m0 1v3m0 1v26m0 1v11m0 1v6M397.5 67v3m0 8v1m0 6v1m0 1v1m0 1v3m0 1v3m0 2v4m0 1v1m0 2v2m0 3v1m0 5v2m0 2v1m0 1v1m0 2v2m0 2v6m0 2v1m0 3v2m0 3v1m0 1v2m0 4v2m0 1v1m0 1v5m0 1v7m0 1v3m0 1v11m0 1v18m0 1v15m0 1v3m0 1v3m0 1v54m0 1v46m0 1v3m0 1v3m0 1v3m0 1v18m0 1v31m0 1v7m0 1v3m0 1v26m0 1v16M399.5 69v5m0 5v2m0 1v5m0 6v1m0 1v4m0 4v1m0 2v1m0 5v1m0 1v2m0 1v2m0 1v2m0 1v5m0 7v1m0 2v1m0 1v2m0 4v4m0 1v3m0 2v2m0 2v21m0 1v7m0 1v18m0 1v15m0 1v3m0 1v54m0 1v19m0 1v34m0 1v3m0 1v3m0 1v46m0 1v3m0 1v3m0 1v3m0 1v34m0 1v14M404.5 68v1m0 3v2m0 1v5m0 4v13m0 1v1m0 2v3m0 7v3m0 2v8m0 1v2m0 1v3m0 2v3m0 1v2m0 2v3m0 1v2m0 1v1m0 5v2m0 1v1m0 1v3m0 1v10m0 1v3m0 1v46m0 1v3m0 1v50m0 1v23m0 1v6m0 1v11m0 1v3m0 1v15m0 1v3m0 1v50m0 1v3m0 1v3m0 1v3m0 1v26m0 1v16M409.5 66v4m0 4v4m0 3v3m0 7v4m0 1v4m0 2v1m0 1v4m0 2v2m0 7v2m0 6v5m0 1v10m0 4v2m0 2v1m0 1v6m0 1v2m0 1v6m0 1v3m0 1v3m0 1v38m0 1v11m0 1v50m0 1v3m0 1v3m0 1v3m0 1v3m0 1v34m0 1v7m0 1v3m0 1v3m0 1v30m0 1v15m0 1v7m0 1v7m0 1v22m0 1v7m0 1v16M414.5 66v2m0 3v1m0 3v5m0 3v1m0 1v1m0 1v2m0 1v8m0 1v2m0 1v2m0 2v11m0 1v1m0 1v3m0 2v7m0 1v1m0 2v4m0 6v3m0 1v3m0 1v1m0 5v1m0 2v10m0 1v34m0 1v11m0 1v3m0 1v3m0 1v3m0 1v26m0 1v23m0 1v3m0 1v3m0 1v46m0 1v54m0 1v3m0 1v3m0 1v56M419.5 66v2m0 1v1m0 1v4m0 3v2m0 5v2m0 5v1m0 4v2m0 3v1m0 2v2m0 2v2m0 1v9m0 4v4m0 4v4m0 4v3m0 1v3m0 1v2m0 1v1m0 3v6m0 1v6m0 1v3m0 1v3m0 1v26m0 1v2m0 14v2m0 2v2m0 2v3m0 1v2m0 2v1m0 3v2m0 2v3m0 1v2m0 1v3m0 1v3m0 1v1m0 3v2m0 2v2m0 2v2m0 2v2m0 6v1m0 3v2m0 2v2m0 2v1m0 3v3m0 5v2m0 13v3m0 1v2m0 10v3m0 1v7m0 9v1m0 2v3m0 1v2m0 2v3m0 5v3m0 1v2m0 2v2m0 2v2m0 1v4m0 5v2m0 6v2m0 2v2m0 2v2m0 1v2m0 2v2m0 2v2m0 2v2m0 6v2M424.5 68v5m0 1v1m0 2v2m0 1v5m0 1v4m0 2v2m0 2v4m0 3v8m0 2v1m0 4v1m0 1v2m0 1v1m0 2v1m0 2v3m0 1v1m0 4v2m0 1v1m0 2v7m0 2v4m0 1v2m0 3v14m0 1v26m0 1v1m0 3v2m0 10v1m0 7v3m0 1v1m0 14v3m0 1v1m0 3v3m0 5v3m0 1v3m0 9v2m0 5v4m0 32v2m0 2v2m0 2v2m0 2v15m0 1v3m0 4v4m0 4v3m0 5v3m0 1v3m0 1v1m0 2v4m0 1v1m0 7v2m0 2v2m0 9v4m0 4v2m0 2v2m0 2v1m0 3v1m0 3v2m0 10v1m0 3v2M429.5 67v5m0 1v1m0 1v1m0 2v1m0 1v2m0 1v4m0 2v5m0 2v4m0 1v5m0 1v2m0 1v4m0 1v18m0 1v2m0 3v3m0 3v6m0 3v2m0 2v1m0 1v1m0 2v10m0 1v30m0 9v2m0 10v2m0 1v4m0 5v1m0 6v7m0 1v7m0 1v1m0 3v1m0 3v1m0 3v2m0 2v1m0 7v1m0 3v1m0 3v2m0 6v2m0 2v2m0 5v2m0 2v2m0 2v2m0 10v3m0 1v1m0 2v4m0 1v3m0 5v2m0 2v2m0 2v3m0 1v10m0 1v3m0 1v1m0 3v1m0 3v2m0 2v3m0 5v2m0 2v2m0 2v3m0 5v2m0 2v1m0 2v1m0 3v2m0 2v2m0 2v2m0 6v1m0 7v2m0 2v2M433.5 66v2m0 3v1m0 1v1m0 2v5m0 1v1m0 2v1m0 1v3m0 3v3m0 1v8m0 2v1m0 1v1m0 2v2m0 1v2m0 1v1m0 5v6m0 1v2m0 1v1m0 1v1m0 4v1m0 1v4m0 1v7m0 2v2m0 1v1m0 1v7m0 1v3m0 1v19m0 1v10m0 1v3m0 1v3m0 1v3m0 1v2m0 2v2m0 2v2m0 2v2m0 10v2m0 2v6m0 9v2m0 2v11m0 1v3m0 5v7m0 1v1m0 3v1m0 3v1m0 3v2m0 2v1m0 2v1m0 3v1m0 3v1m0 7v1m0 2v4m0 1v3m0 1v3m0 5v1m0 3v2m0 10v2m0 5v2m0 2v3m0 1v3m0 4v4m0 5v7m0 28v1m0 11v2m0 2v2m0 2v2M438.5 66v3m0 1v1m0 1v1m0 3v1m0 3v2m0 1v7m0 1v8m0 2v1m0 1v1m0 3v8m0 1v3m0 1v3m0 11v1m0 1v13m0 1v3m0 3v2m0 1v14m0 1v34m0 5v2m0 2v3m0 1v3m0 1v2m0 10v2m0 2v2m0 2v1m0 3v2m0 4v4m0 1v3m0 1v1m0 3v1m0 3v1m0 3v1m0 3v1m0 3v1m0 3v1m0 3v1m0 3v3m0 1v3m0 1v3m0 1v2m0 1v3m0 1v3m0 1v3m0 1v3m0 1v3m0 1v3m0 1v1m0 3v2m0 2v2m0 2v3m0 1v2m0 2v2m0 2v2m0 2v2m0 1v2m0 2v1m0 7v1m0 3v1m0 7v1m0 3v3m0 8v4m0 9v1m0 2v2m0 6v2m0 2v2m0 6v2m0 2v2m0 2v2M443.5 66v1m0 1v9m0 1v3m0 1v8m0 1v2m0 2v4m0 4v2m0 2v2m0 1v1m0 1v2m0 1v3m0 1v2m0 4v18m0 1v6m0 1v2m0 2v2m0 1v3m0 2v10m0 1v30m0 1v1m0 3v1m0 3v1m0 3v3m0 1v2m0 1v4m0 1v1m0 3v3m0 1v1m0 3v3m0 1v3m0 1v1m0 1v4m0 1v2m0 2v3m0 1v3m0 1v2m0 2v2m0 2v3m0 1v2m0 2v2m0 2v11m0 1v10m0 1v2m0 2v2m0 2v2m0 2v2m0 2v2m0 2v2m0 2v2m0 2v7m0 1v7m0 1v3m0 1v6m0 1v3m0 1v3m0 1v7m0 1v3m0 1v2m0 2v2m0 2v2m0 6v1m0 3v1m0 2v4m0 1v3m0 1v2m0 1v3m0 1v2m0 2v2m0 1v4m0 1v2m0 2v2m0 6v3m0 1v2M446.5 66v2m0 1v1m0 2v1m0 3v2m0 1v1m0 3v3m0 1v7m0 1v7m0 1v10m0 3v2m0 3v1m0 5v4m0 1v3m0 4v1m0 1v4m0 1v1m0 2v5m0 2v2m0 3v1m0 1v6m0 1v3m0 1v30m0 1v2m0 2v2m0 2v2m0 2v2m0 2v1m0 3v2m0 2v2m0 2v2m0 2v2m0 2v1m0 3v1m0 3v1m0 2v1m0 2v4m0 1v1m0 3v1m0 3v3m0 1v3m0 1v1m0 3v2m0 2v3m0 5v1m0 7v3m0 1v3m0 1v1m0 2v1m0 7v2m0 2v1m0 3v2m0 2v2m0 2v3m0 1v3m0 1v2m0 2v2m0 2v3m0 1v2m0 2v1m0 3v2m0 1v7m0 1v1m0 3v1m0 3v1m0 3v1m0 3v1m0 3v1m0 3v2m0 2v1m0 3v2m0 2v2m0 2v2m0 2v2m0 1v2m0 2v3m0 1v2m0 2v3m0 1v2m0 2v3m0 1v1m0 2v4m0 1v2" stroke="#fba437" stroke-width="1" fill="none" shape-rendering="crispEdges"/>
<clipPath id="c4"><rect x="159.5" y="552.5" width="365" height="409"/></clipPath>
<path clip-path="url(#c4)" d="M160.00 950.5h0M160.61 950.5h0M161.22 950.5h0M161.83 950.5h0M162.44 950.5h0M163.05 950.5h0M163.67 950.5h0M164.28 950.5h0M164.89 950.5h0M165.50 950.5h0M166.11 950.5h0M166.72 950.5h0M167.33 950.5h0M167.94 950.5h0M168.55 950.5h0M169.16 950.5h0M169.78 950.5h0M170.39 950.5h0M171.00 950.5h0M171.61 950.5h0M172.60 950.5h0M173.82 950.5h0M175.04 950.5h0M176.26 950.5h0M177.48 950.5h0M178.70 950.5h0M179.92 950.5h0M181.14 950.5h0M182.36 950.5h0M184.30 950.5h0M187.50 950.5h0M190.50 950.5h0M193.60 950.5h0M196.60 950.5h0M200.50 950.5h0M206.57 950.5h0M212.64 950.5h0M218.71 950.5h0M224.78 950.5h0M230.85 950.5h0M236.92 950.5h0M242.99 950.5h0M249.06 950.5h0M255.13 950.5h0M261.20 950.5h0M267.27 950.5h0M273.34 950.5h0M279.41 950.5h0M285.48 950.5h0M291.40 950.5h0M294.43 950.5h0M297.46 950.5h0M300.49 950.5h0M303.52 950.5h0M306.55 950.5h0M310.40 950.5h0M312.50 950.5h0M313.11 950.5h0M313.72 950.5h0M314.33 950.5h0M314.94 950.5h0M315.55 950.5h0M316.17 950.5h0M316.78 950.5h0M317.39 950.5h0M318.00 950.5h0M318.61 950.5h0M319.22 950.5h0M319.83 950.5h0M320.44 950.5h0M321.05 950.5h0M321.66 950.5h0M322.28 950.5h0M322.89 950.5h0M323.50 950.5h0M324.11 950.5h0M324.72 950.5h0M325.33 950.5h0M325.94 950.5h0M326.55 950.5h0M327.16 950.5h0M327.77 950.5h0M328.39 950.5h0M329.00 950.5h0M329.61 950.5h0M330.22 950.5h0M330.83 950.5h0M331.44 950.5h0M332.05 950.5h0M332.66 950.5h0M333.27 950.5h0M333.88 950.5h0M334.50 950.5h0M335.11 950.5h0M335.72 950.5h0M336.33 950.5h0M336.94 950.5h0M337.55 950.5h0M338.16 950.5h0M338.77 950.5h0M339.38 950.5h0M339.99 950.5h0M340.61 950.5h0M341.22 950.5h0M341.83 950.5h0M342.44 950.5h0M343.05 950.5h0M343.66 950.5h0M344.27 950.5h0M344.88 950.5h0M345.49 950.5h0M346.10 950.5h0M346.72 950.5h0M347.33 950.5h0M347.94 950.5h0M348.55 950.5h0M349.16 950.5h0M349.77 950.5h0M350.38 950.5h0M350.99 950.5h0M351.60 950.5h0M352.21 950.5h0M352.83 950.5h0M353.60 950.5h0M354.82 950.5h0M356.04 950.5h0M357.26 950.5h0M358.48 950.5h0M359.70 950.5h0M360.92 950.5h0M362.14 950.5h0M363.36 950.5h0M364.58 950.5h0M365.80 950.5h0M367.02 950.5h0M368.24 950.5h0M369.46 950.5h0M370.68 950.5h0M371.90 950.5h0M374.00 950.5h0M375.53 950.5h0M377.06 950.5h0M378.59 950.5h0M380.12 950.5h0M381.65 950.5h0M383.18 950.5h0M384.71 950.5h0M386.24 950.5h0M387.77 950.5h0M389.30 950.5h0M391.40 950.5h0M394.43 950.5h0M397.46 950.5h0M400.49 950.5h0M403.52 950.5h0M406.55 950.5h0M409.58 950.5h0M412.61 950.5h0M415.64 950.5h0M418.67 950.5h0M422.50 950.5h0M425.60 950.5h0M431.50 950.5h0M432.70 950.5h0M433.90 950.5h0M435.00 950.5h0M438.60 950.5h0M441.62 950.5h0M444.64 950.5h0M447.66 950.5h0M450.68 950.5h0M453.70 950.5h0M456.72 950.5h0M459.74 950.5h0M466.20 950.5h0M472.24 950.5h0M478.28 950.5h0M484.32 950.5h0M490.36 950.5h0M496.40 950.5h0M502.44 950.5h0M508.48 950.5h0M514.52 950.5h0M517.30 950.5h0M523.90 950.5h0" stroke="#1f77b4" stroke-width="3.2" stroke-linecap="round" fill="none"/>
<rect x="469.5" y="65.5" width="20" height="409" fill="url(#pl)" stroke="#000" stroke-width="1.11"/>
<line x1="489.5" y1="420.5" x2="495" y2="420.5" stroke="#000" stroke-width="1.11"/>
<text x="499.22" y="425.80" text-anchor="start">0</text>
<line x1="489.5" y1="345.5" x2="495" y2="345.5" stroke="#000" stroke-width="1.11"/>
<text x="499.22" y="350.80" text-anchor="start">5</text>
<line x1="489.5" y1="270.5" x2="495" y2="270.5" stroke="#000" stroke-width="1.11"/>
<text x="499.22" y="275.80" text-anchor="start">10</text>
<line x1="489.5" y1="195.5" x2="495" y2="195.5" stroke="#000" stroke-width="1.11"/>
<text x="499.22" y="200.80" text-anchor="start">15</text>
<line x1="489.5" y1="121.5" x2="495" y2="121.5" stroke="#000" stroke-width="1.11"/>
<text x="499.22" y="126.80" text-anchor="start">20</text>
<rect x="894.5" y="65.5" width="20" height="409" fill="url(#pl)" stroke="#000" stroke-width="1.11"/>
<line x1="914.5" y1="420.5" x2="920" y2="420.5" stroke="#000" stroke-width="1.11"/>
<text x="924.22" y="425.80" text-anchor="start">0</text>
<line x1="914.5" y1="345.5" x2="920" y2="345.5" stroke="#000" stroke-width="1.11"/>
<text x="924.22" y="350.80" text-anchor="start">5</text>
<line x1="914.5" y1="270.5" x2="920" y2="270.5" stroke="#000" stroke-width="1.11"/>
<text x="924.22" y="275.80" text-anchor="start">10</text>
<line x1="914.5" y1="195.5" x2="920" y2="195.5" stroke="#000" stroke-width="1.11"/>
<text x="924.22" y="200.80" text-anchor="start">15</text>
<line x1="914.5" y1="121.5" x2="920" y2="121.5" stroke="#000" stroke-width="1.11"/>
<text x="924.22" y="126.80" text-anchor="start">20</text>
<rect x="894.5" y="552.5" width="20" height="409" fill="url(#pl)" stroke="#000" stroke-width="1.11"/>
<line x1="914.5" y1="907.5" x2="920" y2="907.5" stroke="#000" stroke-width="1.11"/>
<text x="924.22" y="912.80" text-anchor="start">0</text>
<line x1="914.5" y1="832.5" x2="920" y2="832.5" stroke="#000" stroke-width="1.11"/>
<text x="924.22" y="837.80" text-anchor="start">5</text>
<line x1="914.5" y1="757.5" x2="920" y2="757.5" stroke="#000" stroke-width="1.11"/>
<text x="924.22" y="762.80" text-anchor="start">10</text>
<line x1="914.5" y1="682.5" x2="920" y2="682.5" stroke="#000" stroke-width="1.11"/>
<text x="924.22" y="687.80" text-anchor="start">15</text>
<line x1="914.5" y1="607.5" x2="920" y2="607.5" stroke="#000" stroke-width="1.11"/>
<text x="924.22" y="612.80" text-anchor="start">20</text>
<rect x="159.5" y="65.5" width="292" height="409" fill="none" stroke="#000" stroke-width="1.11"/>
<rect x="584.5" y="65.5" width="292" height="409" fill="none" stroke="#000" stroke-width="1.11"/>
<rect x="1009.5" y="65.5" width="365" height="409" fill="none" stroke="#000" stroke-width="1.11"/>
<rect x="159.5" y="552.5" width="365" height="409" fill="none" stroke="#000" stroke-width="1.11"/>
<rect x="584.5" y="552.5" width="292" height="409" fill="none" stroke="#000" stroke-width="1.11"/>
<rect x="1009.5" y="552.5" width="365" height="409" fill="none" stroke="#000" stroke-width="1.11"/>
<line x1="154" y1="65.5" x2="159.5" y2="65.5" stroke="#000" stroke-width="1.11"/>
<text x="149.78" y="70.80" text-anchor="end">0</text>
<line x1="154" y1="144.5" x2="159.5" y2="144.5" stroke="#000" stroke-width="1.11"/>
<text x="148.68" y="149.80" text-anchor="end">200</text>
<line x1="154" y1="223.5" x2="159.5" y2="223.5" stroke="#000" stroke-width="1.11"/>
<text x="148.68" y="228.80" text-anchor="end">400</text>
<line x1="154" y1="301.5" x2="159.5" y2="301.5" stroke="#000" stroke-width="1.11"/>
<text x="148.68" y="306.80" text-anchor="end">600</text>
<line x1="154" y1="380.5" x2="159.5" y2="380.5" stroke="#000" stroke-width="1.11"/>
<text x="148.68" y="385.80" text-anchor="end">800</text>
<line x1="154" y1="458.5" x2="159.5" y2="458.5" stroke="#000" stroke-width="1.11"/>
<text x="148.28" y="463.80" text-anchor="end" style="letter-spacing:-0.35px">1000</text>
<line x1="579" y1="65.5" x2="584.5" y2="65.5" stroke="#000" stroke-width="1.11"/>
<text x="574.78" y="70.80" text-anchor="end">0</text>
<line x1="579" y1="144.5" x2="584.5" y2="144.5" stroke="#000" stroke-width="1.11"/>
<text x="573.68" y="149.80" text-anchor="end">200</text>
<line x1="579" y1="223.5" x2="584.5" y2="223.5" stroke="#000" stroke-width="1.11"/>
<text x="573.68" y="228.80" text-anchor="end">400</text>
<line x1="579" y1="301.5" x2="584.5" y2="301.5" stroke="#000" stroke-width="1.11"/>
<text x="573.68" y="306.80" text-anchor="end">600</text>
<line x1="579" y1="380.5" x2="584.5" y2="380.5" stroke="#000" stroke-width="1.11"/>
<text x="573.68" y="385.80" text-anchor="end">800</text>
<line x1="579" y1="458.5" x2="584.5" y2="458.5" stroke="#000" stroke-width="1.11"/>
<text x="573.28" y="463.80" text-anchor="end" style="letter-spacing:-0.35px">1000</text>
<line x1="579" y1="552.5" x2="584.5" y2="552.5" stroke="#000" stroke-width="1.11"/>
<text x="574.78" y="557.80" text-anchor="end">0</text>
<line x1="579" y1="631.5" x2="584.5" y2="631.5" stroke="#000" stroke-width="1.11"/>
<text x="573.68" y="636.80" text-anchor="end">200</text>
<line x1="579" y1="709.5" x2="584.5" y2="709.5" stroke="#000" stroke-width="1.11"/>
<text x="573.68" y="714.80" text-anchor="end">400</text>
<line x1="579" y1="788.5" x2="584.5" y2="788.5" stroke="#000" stroke-width="1.11"/>
<text x="573.68" y="793.80" text-anchor="end">600</text>
<line x1="579" y1="867.5" x2="584.5" y2="867.5" stroke="#000" stroke-width="1.11"/>
<text x="573.68" y="872.80" text-anchor="end">800</text>
<line x1="579" y1="945.5" x2="584.5" y2="945.5" stroke="#000" stroke-width="1.11"/>
<text x="573.28" y="950.80" text-anchor="end" style="letter-spacing:-0.35px">1000</text>
<line x1="1004" y1="552.5" x2="1009.5" y2="552.5" stroke="#000" stroke-width="1.11"/>
<text x="999.78" y="557.80" text-anchor="end">0</text>
<line x1="1004" y1="631.5" x2="1009.5" y2="631.5" stroke="#000" stroke-width="1.11"/>
<text x="998.68" y="636.80" text-anchor="end">200</text>
<line x1="1004" y1="709.5" x2="1009.5" y2="709.5" stroke="#000" stroke-width="1.11"/>
<text x="998.68" y="714.80" text-anchor="end">400</text>
<line x1="1004" y1="788.5" x2="1009.5" y2="788.5" stroke="#000" stroke-width="1.11"/>
<text x="998.68" y="793.80" text-anchor="end">600</text>
<line x1="1004" y1="867.5" x2="1009.5" y2="867.5" stroke="#000" stroke-width="1.11"/>
<text x="998.68" y="872.80" text-anchor="end">800</text>
<line x1="1004" y1="945.5" x2="1009.5" y2="945.5" stroke="#000" stroke-width="1.11"/>
<text x="998.28" y="950.80" text-anchor="end" style="letter-spacing:-0.35px">1000</text>
<line x1="1004" y1="474.5" x2="1009.5" y2="474.5" stroke="#000" stroke-width="1.11"/>
<text x="997.43" y="479.80" text-anchor="end" dx="1.5 -1.5">0.0</text>
<line x1="1009.5" y1="474.5" x2="1009.5" y2="480" stroke="#000" stroke-width="1.11"/>
<text x="1008.50" y="495.10" text-anchor="middle" dx="1 -1">0.0</text>
<line x1="1004" y1="393.5" x2="1009.5" y2="393.5" stroke="#000" stroke-width="1.11"/>
<text x="997.43" y="398.80" text-anchor="end" dx="1.5 -1.5">0.2</text>
<line x1="1082.5" y1="474.5" x2="1082.5" y2="480" stroke="#000" stroke-width="1.11"/>
<text x="1081.50" y="495.10" text-anchor="middle" dx="1 -1">0.2</text>
<line x1="1004" y1="311.5" x2="1009.5" y2="311.5" stroke="#000" stroke-width="1.11"/>
<text x="997.43" y="316.80" text-anchor="end" dx="1.5 -1.5">0.4</text>
<line x1="1155.5" y1="474.5" x2="1155.5" y2="480" stroke="#000" stroke-width="1.11"/>
<text x="1154.50" y="495.10" text-anchor="middle" dx="1 -1">0.4</text>
<line x1="1004" y1="229.5" x2="1009.5" y2="229.5" stroke="#000" stroke-width="1.11"/>
<text x="997.43" y="234.80" text-anchor="end" dx="1.5 -1.5">0.6</text>
<line x1="1228.5" y1="474.5" x2="1228.5" y2="480" stroke="#000" stroke-width="1.11"/>
<text x="1227.50" y="495.10" text-anchor="middle" dx="1 -1">0.6</text>
<line x1="1004" y1="147.5" x2="1009.5" y2="147.5" stroke="#000" stroke-width="1.11"/>
<text x="997.43" y="152.80" text-anchor="end" dx="1.5 -1.5">0.8</text>
<line x1="1301.5" y1="474.5" x2="1301.5" y2="480" stroke="#000" stroke-width="1.11"/>
<text x="1300.50" y="495.10" text-anchor="middle" dx="1 -1">0.8</text>
<line x1="1004" y1="65.5" x2="1009.5" y2="65.5" stroke="#000" stroke-width="1.11"/>
<text x="997.43" y="70.80" text-anchor="end" dx="1.5 -1.5">1.0</text>
<line x1="1374.5" y1="474.5" x2="1374.5" y2="480" stroke="#000" stroke-width="1.11"/>
<text x="1372.70" y="495.10" text-anchor="middle" dx="1 -1">1.0</text>
<line x1="154" y1="950.5" x2="159.5" y2="950.5" stroke="#000" stroke-width="1.11"/>
<text x="148.78" y="955.80" text-anchor="end">Real Time</text>
<line x1="154" y1="751.5" x2="159.5" y2="751.5" stroke="#000" stroke-width="1.11"/>
<text x="148.78" y="756.80" text-anchor="end">Real Time Adjusted</text>
<line x1="154" y1="552.5" x2="159.5" y2="552.5" stroke="#000" stroke-width="1.11"/>
<text x="148.78" y="557.80" text-anchor="end">Delayed Mode</text>
<line x1="193.5" y1="474.5" x2="193.5" y2="480" stroke="#000" stroke-width="1.11"/>
<text x="193.00" y="495.10" text-anchor="middle">2015.25</text>
<line x1="619.5" y1="474.5" x2="619.5" y2="480" stroke="#000" stroke-width="1.11"/>
<text x="619.00" y="495.10" text-anchor="middle">2015.25</text>
<line x1="619.5" y1="961.5" x2="619.5" y2="967" stroke="#000" stroke-width="1.11"/>
<text x="619.00" y="982.10" text-anchor="middle">2015.25</text>
<line x1="202.5" y1="961.5" x2="202.5" y2="967" stroke="#000" stroke-width="1.11"/>
<text x="202.00" y="982.10" text-anchor="middle">2015.25</text>
<line x1="238.5" y1="474.5" x2="238.5" y2="480" stroke="#000" stroke-width="1.11"/>
<text x="238.00" y="495.10" text-anchor="middle">2015.50</text>
<line x1="663.5" y1="474.5" x2="663.5" y2="480" stroke="#000" stroke-width="1.11"/>
<text x="663.00" y="495.10" text-anchor="middle">2015.50</text>
<line x1="663.5" y1="961.5" x2="663.5" y2="967" stroke="#000" stroke-width="1.11"/>
<text x="663.00" y="982.10" text-anchor="middle">2015.50</text>
<line x1="258.5" y1="961.5" x2="258.5" y2="967" stroke="#000" stroke-width="1.11"/>
<text x="258.00" y="982.10" text-anchor="middle">2015.50</text>
<line x1="283.5" y1="474.5" x2="283.5" y2="480" stroke="#000" stroke-width="1.11"/>
<text x="283.00" y="495.10" text-anchor="middle">2015.75</text>
<line x1="708.5" y1="474.5" x2="708.5" y2="480" stroke="#000" stroke-width="1.11"/>
<text x="708.00" y="495.10" text-anchor="middle">2015.75</text>
<line x1="708.5" y1="961.5" x2="708.5" y2="967" stroke="#000" stroke-width="1.11"/>
<text x="708.00" y="982.10" text-anchor="middle">2015.75</text>
<line x1="314.5" y1="961.5" x2="314.5" y2="967" stroke="#000" stroke-width="1.11"/>
<text x="314.00" y="982.10" text-anchor="middle">2015.75</text>
<line x1="327.5" y1="474.5" x2="327.5" y2="480" stroke="#000" stroke-width="1.11"/>
<text x="327.00" y="495.10" text-anchor="middle">2016.00</text>
<line x1="753.5" y1="474.5" x2="753.5" y2="480" stroke="#000" stroke-width="1.11"/>
<text x="753.00" y="495.10" text-anchor="middle">2016.00</text>
<line x1="753.5" y1="961.5" x2="753.5" y2="967" stroke="#000" stroke-width="1.11"/>
<text x="753.00" y="982.10" text-anchor="middle">2016.00</text>
<line x1="370.5" y1="961.5" x2="370.5" y2="967" stroke="#000" stroke-width="1.11"/>
<text x="370.00" y="982.10" text-anchor="middle">2016.00</text>
<line x1="372.5" y1="474.5" x2="372.5" y2="480" stroke="#000" stroke-width="1.11"/>
<text x="372.00" y="495.10" text-anchor="middle">2016.25</text>
<line x1="797.5" y1="474.5" x2="797.5" y2="480" stroke="#000" stroke-width="1.11"/>
<text x="797.00" y="495.10" text-anchor="middle">2016.25</text>
<line x1="797.5" y1="961.5" x2="797.5" y2="967" stroke="#000" stroke-width="1.11"/>
<text x="797.00" y="982.10" text-anchor="middle">2016.25</text>
<line x1="425.5" y1="961.5" x2="425.5" y2="967" stroke="#000" stroke-width="1.11"/>
<text x="425.00" y="982.10" text-anchor="middle">2016.25</text>
<line x1="417.5" y1="474.5" x2="417.5" y2="480" stroke="#000" stroke-width="1.11"/>
<text x="417.00" y="495.10" text-anchor="middle">2016.50</text>
<line x1="842.5" y1="474.5" x2="842.5" y2="480" stroke="#000" stroke-width="1.11"/>
<text x="842.00" y="495.10" text-anchor="middle">2016.50</text>
<line x1="842.5" y1="961.5" x2="842.5" y2="967" stroke="#000" stroke-width="1.11"/>
<text x="842.00" y="982.10" text-anchor="middle">2016.50</text>
<line x1="481.5" y1="961.5" x2="481.5" y2="967" stroke="#000" stroke-width="1.11"/>
<text x="481.00" y="982.10" text-anchor="middle">2016.50</text>
<line x1="1108.5" y1="961.5" x2="1108.5" y2="967" stroke="#000" stroke-width="1.11"/>
<text x="1108.00" y="982.10" text-anchor="middle">2015.5</text>
<line x1="1220.5" y1="961.5" x2="1220.5" y2="967" stroke="#000" stroke-width="1.11"/>
<text x="1220.00" y="982.10" text-anchor="middle">2016.0</text>
<line x1="1332.5" y1="961.5" x2="1332.5" y2="967" stroke="#000" stroke-width="1.11"/>
<text x="1332.00" y="982.10" text-anchor="middle">2016.5</text>
<text x="699.80" y="32.00" text-anchor="middle" style="font-size:16.667px;letter-spacing:0.032px">6901579, 181 profiles, 2015-01-21 to 2016-09-09</text>
<text x="305.50" y="57.20" text-anchor="middle" style="font-size:16.667px">CDOM</text>
<text x="730.50" y="57.20" text-anchor="middle" style="font-size:16.667px">CDOM_ADJUSTED</text>
<text x="1192.00" y="57.20" text-anchor="middle" style="font-size:16.667px">CDOM_ADJUSTED_QC</text>
<text x="338.50" y="525.50" text-anchor="middle" style="font-size:16.667px">Mode. Blue=D, Red=RT,</text>
<text x="341.10" y="544.20" text-anchor="middle" style="font-size:16.667px">Gray=Real Time Adjusted</text>
<text x="729.90" y="525.50" text-anchor="middle" style="font-size:16.667px">CDOM_ADJUSTED_BGCArgoPlus</text>
<text x="729.70" y="544.20" text-anchor="middle" style="font-size:16.667px">Processing: F_</text>
<text x="1191.30" y="544.20" text-anchor="middle" style="font-size:16.667px">Outliers Removed</text>
</svg></body></html>
